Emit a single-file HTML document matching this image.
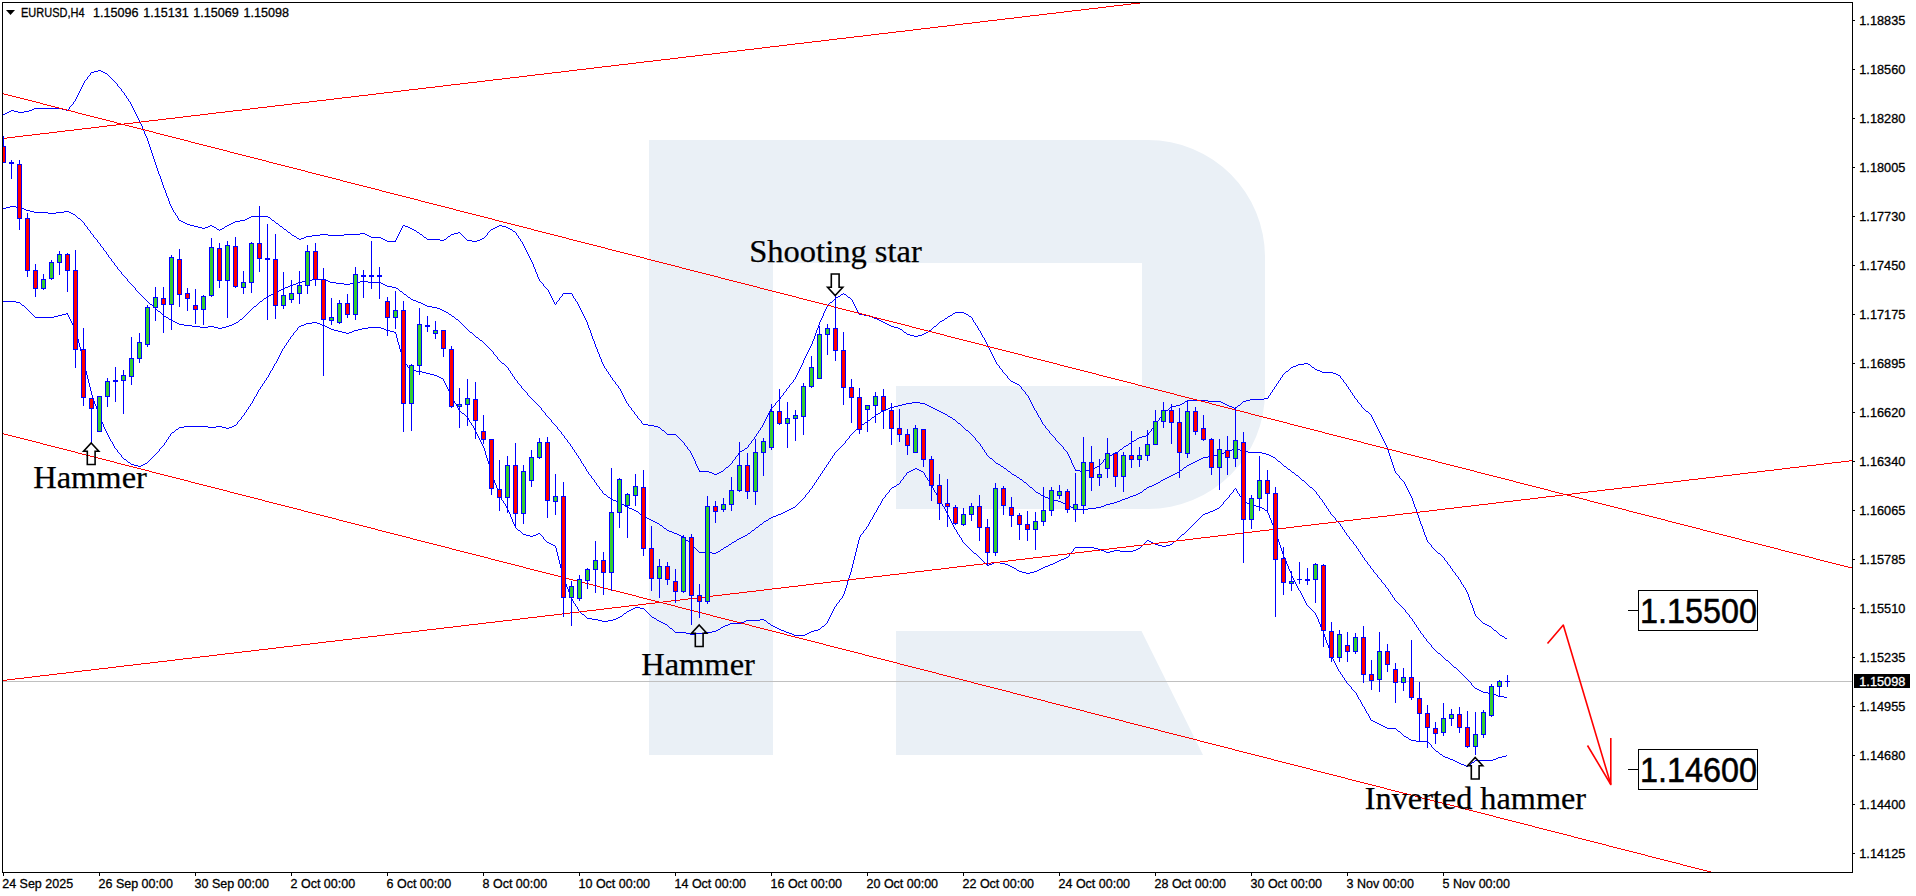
<!DOCTYPE html>
<html lang="en"><head><meta charset="utf-8"><title>EURUSD,H4</title>
<style>
html,body{margin:0;padding:0;background:#fff;}
body{width:1916px;height:896px;overflow:hidden;position:relative;font-family:"Liberation Sans",sans-serif;}
svg{position:absolute;left:0;top:0;display:block;}
.ax{font-family:"Liberation Sans",sans-serif;font-size:12.5px;fill:#000;stroke:#000;stroke-width:0.3px;}
.lbl{font-family:"Liberation Serif",serif;font-size:32.5px;fill:#000;stroke:#000;stroke-width:0.25px;}
.box{font-family:"Liberation Sans",sans-serif;font-size:35px;fill:#000;stroke:#000;stroke-width:0.5px;}
</style></head><body>
<svg width="1916" height="896" viewBox="0 0 1916 896">
<defs><clipPath id="cl"><rect x="3" y="3" width="1849" height="869"/></clipPath></defs>
<rect width="1916" height="896" fill="#fff"/>
<g clip-path="url(#cl)">
<path fill="#eaf0f6" d="M649 140H1148A117 117 0 0 1 1265 257V392A117 117 0 0 1 1148 509H896V386H1142V263H773V755H649Z M896 631H1141.5L1203 755H896Z"/>
<rect x="3" y="681" width="1849" height="1" fill="#c0c0c0" shape-rendering="crispEdges"/>
<path fill="#0000ff" shape-rendering="crispEdges" d="M592 619h6v1h-6zM613 619h3v1h-3zM760 619h4v1h-4zM613 500h3v1h-3zM1054 500h4v1h-4zM1120 500h2v1h-2zM618 502h2v1h-2zM1061 502h2v1h-2zM1114 502h3v1h-3zM1245 502h2v1h-2zM3 208h3v1h-3zM21 208h3v1h-3zM726 546h2v1h-2zM1162 546h4v1h-4zM422 372h4v1h-4zM1322 372h11v1h-11zM699 552h13v1h-13zM716 552h2v1h-2zM1106 552h4v1h-4zM620 616h2v1h-2zM1298 364h6v1h-6zM1308 364h2v1h-2zM302 281h4v1h-4zM328 281h2v1h-2zM360 281h8v1h-8zM446 312h2v1h-2zM955 312h9v1h-9zM740 451h2v1h-2zM1226 451h3v1h-3zM1242 451h6v1h-6zM426 373h4v1h-4zM1333 373h3v1h-3zM672 532h2v1h-2zM476 337h2v1h-2zM718 551h2v1h-2zM1104 551h2v1h-2zM1110 551h4v1h-4zM1120 551h13v1h-13zM298 282h4v1h-4zM330 282h6v1h-6zM354 282h6v1h-6zM368 282h13v1h-13zM989 564h3v1h-3zM1005 564h3v1h-3zM1050 564h3v1h-3zM1144 489h2v1h-2zM218 328h4v1h-4zM329 328h2v1h-2zM362 328h6v1h-6zM381 328h3v1h-3zM898 328h2v1h-2zM665 624h2v1h-2zM728 624h2v1h-2zM1485 624h2v1h-2zM635 607h5v1h-5zM1461 764h3v1h-3zM598 620h4v1h-4zM608 620h5v1h-5zM657 620h2v1h-2zM746 620h14v1h-14zM764 620h2v1h-2zM898 405h4v1h-4zM927 405h2v1h-2zM1176 405h4v1h-4zM1227 405h2v1h-2zM1238 405h2v1h-2zM416 371h6v1h-6zM1286 371h2v1h-2zM1320 371h2v1h-2zM1101 550h3v1h-3zM1114 550h6v1h-6zM1133 550h3v1h-3zM1066 557h2v1h-2zM181 221h2v1h-2zM235 221h5v1h-5zM34 108h28v1h-28zM632 509h2v1h-2zM789 509h2v1h-2zM1075 509h13v1h-13zM1215 509h2v1h-2zM183 222h2v1h-2zM233 222h2v1h-2zM176 429h2v1h-2zM994 562h6v1h-6zM1055 562h2v1h-2zM622 504h2v1h-2zM1065 504h2v1h-2zM1106 504h4v1h-4zM1249 504h2v1h-2zM175 322h2v1h-2zM236 322h2v1h-2zM312 322h5v1h-5zM883 322h2v1h-2zM1043 496h2v1h-2zM1130 496h3v1h-3zM620 503h2v1h-2zM1063 503h2v1h-2zM1110 503h4v1h-4zM1247 503h2v1h-2zM3 301h13v1h-13zM260 301h2v1h-2zM416 301h2v1h-2zM192 326h8v1h-8zM208 326h6v1h-6zM226 326h3v1h-3zM299 326h2v1h-2zM325 326h2v1h-2zM891 326h3v1h-3zM934 326h2v1h-2zM640 514h2v1h-2zM778 514h3v1h-3zM1203 514h2v1h-2zM636 511h2v1h-2zM785 511h2v1h-2zM1210 511h3v1h-3zM992 563h2v1h-2zM1000 563h5v1h-5zM1053 563h2v1h-2zM185 223h2v1h-2zM231 223h2v1h-2zM276 223h2v1h-2zM624 613h2v1h-2zM202 228h3v1h-3zM222 228h2v1h-2zM410 228h2v1h-2zM493 228h2v1h-2zM508 228h2v1h-2zM292 235h2v1h-2zM312 235h8v1h-8zM328 235h16v1h-16zM367 235h2v1h-2zM651 520h2v1h-2zM766 520h2v1h-2zM913 469h2v1h-2zM917 469h2v1h-2zM1090 469h3v1h-3zM1288 469h2v1h-2zM625 506h2v1h-2zM1069 506h2v1h-2zM1101 506h3v1h-3zM1256 506h4v1h-4zM1112 454h2v1h-2zM1218 454h3v1h-3zM1266 454h3v1h-3zM1416 741h12v1h-12zM217 229h2v1h-2zM220 229h2v1h-2zM284 229h2v1h-2zM412 229h2v1h-2zM491 229h2v1h-2zM510 229h2v1h-2zM134 465h4v1h-4zM141 465h2v1h-2zM1187 465h2v1h-2zM1014 475h2v1h-2zM1171 475h2v1h-2zM1296 475h2v1h-2zM184 426h24v1h-24zM216 426h6v1h-6zM232 426h2v1h-2zM654 426h4v1h-4zM1187 400h21v1h-21zM1246 400h4v1h-4zM279 290h2v1h-2zM699 471h10v1h-10zM721 471h2v1h-2zM909 471h2v1h-2zM921 471h2v1h-2zM1008 471h2v1h-2zM1080 471h6v1h-6zM726 467h2v1h-2zM1095 467h2v1h-2zM1184 467h2v1h-2zM54 316h4v1h-4zM164 316h2v1h-2zM452 316h2v1h-2zM869 316h3v1h-3zM948 316h2v1h-2zM969 316h2v1h-2zM297 238h2v1h-2zM301 238h3v1h-3zM381 238h2v1h-2zM482 238h2v1h-2zM1116 452h2v1h-2zM1224 452h2v1h-2zM1248 452h14v1h-14zM198 227h4v1h-4zM205 227h3v1h-3zM214 227h2v1h-2zM408 227h2v1h-2zM495 227h2v1h-2zM506 227h2v1h-2zM657 523h2v1h-2zM1504 697h3v1h-3zM1114 453h2v1h-2zM1221 453h3v1h-3zM1262 453h4v1h-4zM387 241h9v1h-9zM472 241h5v1h-5zM299 239h2v1h-2zM383 239h2v1h-2zM427 239h13v1h-13zM444 239h2v1h-2zM480 239h2v1h-2zM653 521h2v1h-2zM764 521h2v1h-2zM254 306h2v1h-2zM427 306h5v1h-5zM16 302h4v1h-4zM418 302h3v1h-3zM830 302h2v1h-2zM171 320h2v1h-2zM879 320h2v1h-2zM942 320h2v1h-2zM941 412h2v1h-2zM660 525h2v1h-2zM430 374h4v1h-4zM1336 374h2v1h-2zM1142 436h4v1h-4zM145 463h2v1h-2zM996 463h2v1h-2zM1191 463h2v1h-2zM551 544h2v1h-2zM729 544h2v1h-2zM1155 544h3v1h-3zM1170 544h2v1h-2zM1169 476h2v1h-2zM876 414h2v1h-2zM945 414h2v1h-2zM304 237h2v1h-2zM371 237h10v1h-10zM424 237h2v1h-2zM1436 751h2v1h-2zM1498 696h6v1h-6zM439 377h2v1h-2zM226 428h3v1h-3zM523 534h3v1h-3zM536 534h2v1h-2zM677 534h2v1h-2zM1182 534h2v1h-2zM530 536h3v1h-3zM681 536h2v1h-2zM743 536h2v1h-2zM1017 384h2v1h-2zM30 211h4v1h-4zM64 211h5v1h-5zM440 309h2v1h-2zM1453 760h2v1h-2zM1475 760h18v1h-18zM1139 437h3v1h-3zM958 423h2v1h-2zM737 539h2v1h-2zM948 416h2v1h-2zM1017 477h2v1h-2zM1167 477h2v1h-2zM897 484h2v1h-2zM1154 484h2v1h-2zM6 207h4v1h-4zM16 207h5v1h-5zM643 424h5v1h-5zM862 424h2v1h-2zM686 540h2v1h-2zM1147 540h2v1h-2zM712 553h4v1h-4zM974 553h2v1h-2zM1438 553h2v1h-2zM1165 478h2v1h-2zM721 549h2v1h-2zM1098 549h3v1h-3zM1136 549h2v1h-2zM179 324h5v1h-5zM232 324h2v1h-2zM304 324h2v1h-2zM320 324h2v1h-2zM887 324h2v1h-2zM911 470h2v1h-2zM919 470h2v1h-2zM1075 470h5v1h-5zM1086 470h4v1h-4zM1180 470h2v1h-2zM1156 483h2v1h-2zM602 621h6v1h-6zM659 621h2v1h-2zM744 621h2v1h-2zM547 542h2v1h-2zM732 542h2v1h-2zM1151 542h2v1h-2zM865 422h2v1h-2zM234 425h2v1h-2zM648 425h6v1h-6zM860 425h2v1h-2zM306 280h6v1h-6zM325 280h3v1h-3zM1371 720h2v1h-2zM34 212h14v1h-14zM56 212h8v1h-8zM69 212h2v1h-2zM662 430h2v1h-2zM966 430h2v1h-2zM1015 383h2v1h-2zM338 331h4v1h-4zM352 331h2v1h-2zM390 331h4v1h-4zM1185 401h2v1h-2zM1208 401h13v1h-13zM1243 401h3v1h-3zM874 318h3v1h-3zM945 318h2v1h-2zM616 501h2v1h-2zM1058 501h3v1h-3zM1117 501h3v1h-3zM1243 501h2v1h-2zM734 541h2v1h-2zM1149 541h2v1h-2zM1174 541h2v1h-2zM1011 381h2v1h-2zM1126 445h2v1h-2zM414 230h2v1h-2zM342 332h4v1h-4zM349 332h3v1h-3zM394 332h2v1h-2zM470 332h2v1h-2zM904 332h2v1h-2zM926 332h2v1h-2zM331 329h3v1h-3zM358 329h4v1h-4zM384 329h2v1h-2zM900 329h2v1h-2zM618 617h2v1h-2zM652 617h2v1h-2zM513 231h2v1h-2zM277 291h2v1h-2zM400 291h2v1h-2zM629 508h3v1h-3zM791 508h2v1h-2zM1073 508h2v1h-2zM1088 508h8v1h-8zM1217 508h2v1h-2zM1262 508h2v1h-2zM663 623h2v1h-2zM730 623h11v1h-11zM768 623h2v1h-2zM1483 623h2v1h-2zM1064 558h2v1h-2zM611 499h2v1h-2zM1050 499h4v1h-4zM1122 499h3v1h-3zM634 510h2v1h-2zM787 510h2v1h-2zM1213 510h2v1h-2zM1265 510h2v1h-2zM1012 567h2v1h-2zM1043 567h2v1h-2zM194 226h4v1h-4zM208 226h2v1h-2zM212 226h2v1h-2zM225 226h2v1h-2zM280 226h2v1h-2zM405 226h3v1h-3zM497 226h2v1h-2zM502 226h4v1h-4zM264 298h2v1h-2zM885 409h3v1h-3zM935 409h2v1h-2zM11 110h3v1h-3zM29 110h3v1h-3zM66 110h2v1h-2zM912 402h8v1h-8zM1221 402h2v1h-2zM320 234h8v1h-8zM344 234h16v1h-16zM365 234h2v1h-2zM420 234h2v1h-2zM451 234h3v1h-3zM1107 456h2v1h-2zM1208 456h6v1h-6zM1271 456h2v1h-2zM411 299h2v1h-2zM187 224h3v1h-3zM229 224h2v1h-2zM269 295h2v1h-2zM1019 571h3v1h-3zM1034 571h3v1h-3zM794 635h11v1h-11zM1500 635h2v1h-2zM385 240h2v1h-2zM440 240h4v1h-4zM467 240h5v1h-5zM477 240h3v1h-3zM437 308h3v1h-3zM1132 441h2v1h-2zM408 297h2v1h-2zM836 297h2v1h-2zM848 297h2v1h-2zM360 233h5v1h-5zM454 233h4v1h-4zM1195 461h2v1h-2zM1278 461h2v1h-2zM421 303h2v1h-2zM288 286h2v1h-2zM387 286h5v1h-5zM1445 757h3v1h-3zM1498 757h4v1h-4zM756 527h2v1h-2zM675 632h11v1h-11zM704 632h8v1h-8zM786 632h3v1h-3zM809 632h2v1h-2zM655 522h2v1h-2zM1496 695h2v1h-2zM906 403h6v1h-6zM920 403h5v1h-5zM1182 403h2v1h-2zM1223 403h2v1h-2zM883 410h2v1h-2zM937 410h2v1h-2zM1166 410h2v1h-2zM868 420h2v1h-2zM881 411h2v1h-2zM939 411h2v1h-2zM1366 411h2v1h-2zM888 408h2v1h-2zM933 408h2v1h-2zM1234 408h2v1h-2zM714 474h3v1h-3zM1012 474h2v1h-2zM1173 474h2v1h-2zM1459 763h2v1h-2zM411 370h5v1h-5zM1317 370h3v1h-3zM158 311h2v1h-2zM444 311h2v1h-2zM177 323h2v1h-2zM234 323h2v1h-2zM306 323h6v1h-6zM317 323h3v1h-3zM885 323h2v1h-2zM526 535h4v1h-4zM533 535h3v1h-3zM679 535h2v1h-2zM745 535h2v1h-2zM741 537h2v1h-2zM138 466h3v1h-3zM1001 466h2v1h-2zM1097 466h2v1h-2zM1284 466h2v1h-2zM58 315h4v1h-4zM864 315h5v1h-5zM950 315h2v1h-2zM334 330h4v1h-4zM354 330h4v1h-4zM386 330h4v1h-4zM929 330h2v1h-2zM249 217h2v1h-2zM268 217h2v1h-2zM66 313h2v1h-2zM953 313h2v1h-2zM964 313h2v1h-2zM1041 495h2v1h-2zM1133 495h3v1h-3zM200 327h8v1h-8zM214 327h4v1h-4zM222 327h4v1h-4zM327 327h2v1h-2zM368 327h13v1h-13zM894 327h4v1h-4zM1440 754h2v1h-2zM553 545h2v1h-2zM1158 545h4v1h-4zM1166 545h4v1h-4zM441 378h2v1h-2zM724 547h2v1h-2zM1075 547h19v1h-19zM1036 492h2v1h-2zM1140 492h2v1h-2zM587 618h5v1h-5zM616 618h2v1h-2zM654 618h2v1h-2zM582 614h2v1h-2zM1013 382h2v1h-2zM739 538h2v1h-2zM907 334h3v1h-3zM922 334h2v1h-2zM179 427h5v1h-5zM208 427h8v1h-8zM222 427h4v1h-4zM229 427h3v1h-3zM658 427h2v1h-2zM190 225h4v1h-4zM210 225h2v1h-2zM227 225h2v1h-2zM403 225h2v1h-2zM499 225h3v1h-3zM1059 560h2v1h-2zM1014 568h2v1h-2zM1041 568h2v1h-2zM1094 548h4v1h-4zM1138 548h2v1h-2zM184 325h8v1h-8zM229 325h3v1h-3zM301 325h3v1h-3zM322 325h3v1h-3zM889 325h2v1h-2zM1383 726h2v1h-2zM1124 446h2v1h-2zM1377 723h2v1h-2zM346 333h3v1h-3zM924 333h2v1h-2zM781 513h2v1h-2zM1205 513h3v1h-3zM169 319h2v1h-2zM240 319h2v1h-2zM456 319h2v1h-2zM877 319h2v1h-2zM910 335h4v1h-4zM918 335h4v1h-4zM716 630h2v1h-2zM781 630h3v1h-3zM814 630h4v1h-4zM1494 630h2v1h-2zM783 512h2v1h-2zM1208 512h2v1h-2zM647 518h2v1h-2zM769 518h2v1h-2zM294 236h2v1h-2zM306 236h6v1h-6zM369 236h2v1h-2zM448 236h2v1h-2zM645 517h2v1h-2zM771 517h2v1h-2zM124 459h2v1h-2zM1199 459h2v1h-2zM723 626h2v1h-2zM773 626h2v1h-2zM822 626h2v1h-2zM1489 626h2v1h-2zM664 528h2v1h-2zM1039 569h2v1h-2zM271 294h2v1h-2zM404 294h2v1h-2zM841 294h2v1h-2zM844 294h2v1h-2zM462 413h2v1h-2zM878 413h2v1h-2zM943 413h2v1h-2zM1203 457h5v1h-5zM1273 457h2v1h-2zM987 565h2v1h-2zM1008 565h2v1h-2zM1048 565h2v1h-2zM661 622h2v1h-2zM741 622h3v1h-3zM902 404h4v1h-4zM925 404h2v1h-2zM1180 404h2v1h-2zM1225 404h2v1h-2zM690 634h6v1h-6zM792 634h2v1h-2zM805 634h2v1h-2zM894 406h4v1h-4zM929 406h2v1h-2zM1171 406h5v1h-5zM1229 406h3v1h-3zM1010 566h2v1h-2zM1045 566h3v1h-3zM538 533h2v1h-2zM674 533h3v1h-3zM748 533h2v1h-2zM35 317h19v1h-19zM166 317h2v1h-2zM872 317h2v1h-2zM150 304h2v1h-2zM423 304h2v1h-2zM273 293h2v1h-2zM563 293h9v1h-9zM760 524h2v1h-2zM518 530h2v1h-2zM667 530h2v1h-2zM752 530h2v1h-2zM1109 455h3v1h-3zM1214 455h4v1h-4zM1269 455h2v1h-2zM1296 365h2v1h-2zM1443 756h2v1h-2zM1502 756h4v1h-4zM1293 366h3v1h-3zM712 473h2v1h-2zM717 473h2v1h-2zM1175 473h2v1h-2zM1493 694h3v1h-3zM26 210h4v1h-4zM502 363h2v1h-2zM1304 363h4v1h-4zM953 419h2v1h-2zM872 417h2v1h-2zM950 417h2v1h-2zM633 608h2v1h-2zM640 608h4v1h-4zM179 220h2v1h-2zM240 220h5v1h-5zM272 220h2v1h-2zM251 216h17v1h-17zM9 111h2v1h-2zM14 111h4v1h-4zM24 111h5v1h-5zM296 283h2v1h-2zM336 283h8v1h-8zM350 283h4v1h-4zM381 283h2v1h-2zM604 494h2v1h-2zM1136 494h2v1h-2zM627 611h2v1h-2zM312 279h13v1h-13zM712 631h4v1h-4zM784 631h2v1h-2zM811 631h3v1h-3zM670 628h2v1h-2zM777 628h2v1h-2zM686 633h4v1h-4zM696 633h8v1h-8zM789 633h3v1h-3zM807 633h2v1h-2zM627 507h2v1h-2zM793 507h2v1h-2zM1071 507h2v1h-2zM1096 507h5v1h-5zM1260 507h2v1h-2zM914 336h4v1h-4zM1197 460h2v1h-2zM1022 572h4v1h-4zM1030 572h4v1h-4zM98 70h3v1h-3zM293 284h3v1h-3zM344 284h6v1h-6zM383 284h2v1h-2zM776 515h2v1h-2zM1250 399h14v1h-14zM128 462h2v1h-2zM1193 462h2v1h-2zM62 314h4v1h-4zM449 314h2v1h-2zM859 314h5v1h-5zM966 314h2v1h-2zM172 432h2v1h-2zM432 307h5v1h-5zM1291 367h2v1h-2zM1312 367h2v1h-2zM1488 693h5v1h-5zM1020 479h2v1h-2zM1163 479h2v1h-2zM725 625h3v1h-3zM771 625h2v1h-2zM1487 625h2v1h-2zM1505 638h2v1h-2zM890 407h4v1h-4zM931 407h2v1h-2zM1232 407h2v1h-2zM1024 482h2v1h-2zM1158 482h2v1h-2zM48 213h8v1h-8zM71 213h2v1h-2zM549 543h2v1h-2zM1153 543h2v1h-2zM667 434h9v1h-9zM173 321h2v1h-2zM881 321h2v1h-2zM940 321h2v1h-2zM24 209h2v1h-2zM78 218h2v1h-2zM247 218h2v1h-2zM1129 443h2v1h-2zM745 448h2v1h-2zM1234 448h3v1h-3zM1264 398h4v1h-4zM1120 449h2v1h-2zM1232 449h2v1h-2zM1237 449h3v1h-3zM608 497h2v1h-2zM1045 497h3v1h-3zM1128 497h2v1h-2zM1454 667h2v1h-2zM1017 570h2v1h-2zM1037 570h2v1h-2zM288 232h2v1h-2zM417 232h2v1h-2zM458 232h2v1h-2zM1048 498h2v1h-2zM1125 498h3v1h-3zM290 285h3v1h-3zM385 285h2v1h-2zM1411 740h5v1h-5zM1387 728h9v1h-9zM718 629h2v1h-2zM779 629h2v1h-2zM818 629h2v1h-2zM1406 737h2v1h-2zM643 516h2v1h-2zM773 516h3v1h-3zM669 531h3v1h-3zM1450 759h3v1h-3zM1493 759h3v1h-3zM434 375h3v1h-3zM1338 375h2v1h-2zM1502 636h2v1h-2zM1446 660h2v1h-2zM709 472h3v1h-3zM719 472h2v1h-2zM907 472h2v1h-2zM1177 472h2v1h-2zM1292 472h2v1h-2zM1464 765h2v1h-2zM1468 765h2v1h-2zM1134 440h2v1h-2zM1161 480h2v1h-2zM1302 480h2v1h-2zM1067 505h2v1h-2zM1104 505h2v1h-2zM1251 505h5v1h-5zM1315 369h2v1h-2zM437 376h2v1h-2zM742 450h2v1h-2zM1229 450h3v1h-3zM1240 450h2v1h-2zM94 71h4v1h-4zM101 71h2v1h-2zM22 305h2v1h-2zM425 305h2v1h-2zM131 464h3v1h-3zM143 464h2v1h-2zM998 464h2v1h-2zM1189 464h2v1h-2zM631 609h2v1h-2zM32 109h2v1h-2zM62 109h4v1h-4zM721 627h2v1h-2zM775 627h2v1h-2zM1057 561h2v1h-2zM1026 573h4v1h-4zM267 296h2v1h-2zM838 296h2v1h-2zM7 112h2v1h-2zM18 112h6v1h-6zM285 287h3v1h-3zM392 287h4v1h-4zM915 468h2v1h-2zM1004 468h2v1h-2zM1093 468h2v1h-2zM283 288h2v1h-2zM396 288h2v1h-2zM10 206h6v1h-6zM1152 485h2v1h-2zM892 487h2v1h-2zM1030 487h2v1h-2zM1147 487h2v1h-2zM1310 487h2v1h-2zM1146 435h2v1h-2zM1404 736h2v1h-2zM990 458h2v1h-2zM1201 458h2v1h-2zM649 519h2v1h-2zM73 214h2v1h-2zM1466 766h2v1h-2zM894 486h2v1h-2zM1149 486h3v1h-3zM1038 493h2v1h-2zM1138 493h2v1h-2zM1457 762h2v1h-2zM1472 762h2v1h-2zM1409 739h2v1h-2zM480 340h2v1h-2zM413 300h3v1h-3zM275 292h2v1h-2zM442 310h2v1h-2zM281 289h2v1h-2zM1483 692h5v1h-5zM1477 689h2v1h-2zM91 72h3v1h-3zM103 72h2v1h-2zM1137 438h2v1h-2zM1398 731h2v1h-2zM629 610h2v1h-2zM5 113h2v1h-2zM1061 559h3v1h-3zM1385 727h2v1h-2zM1455 761h2v1h-2zM1475 688h2v1h-2zM105 73h2v1h-2zM1479 690h2v1h-2zM1481 691h2v1h-2zM3 114h2v1h-2zM1438 653h2v1h-2zM1379 724h2v1h-2zM245 219h2v1h-2zM1381 725h2v1h-2zM1373 721h2v1h-2zM1448 758h2v1h-2zM1496 758h2v1h-2zM1375 722h2v1h-2zM656 619h1v1h-1zM828 304h1v1h-1zM828 462h1v2h-1zM828 619h1v2h-1zM1318 495h1v1h-1zM1318 619h1v3h-1zM1412 498h1v3h-1zM1412 619h1v2h-1zM1479 619h1v1h-1zM502 500h1v1h-1zM801 365h1v2h-1zM801 500h1v1h-1zM882 499h1v2h-1zM940 500h1v2h-1zM1225 500h1v1h-1zM1242 402h1v1h-1zM1242 499h1v2h-1zM1322 500h1v2h-1zM1322 629h1v2h-1zM503 501h1v2h-1zM799 369h1v2h-1zM799 502h1v1h-1zM881 501h1v2h-1zM941 502h1v2h-1zM1223 502h1v2h-1zM1323 502h1v1h-1zM1323 631h1v3h-1zM1413 501h1v3h-1zM1413 621h1v1h-1zM172 208h1v2h-1zM494 354h1v1h-1zM494 480h1v3h-1zM594 341h1v3h-1zM594 480h1v2h-1zM816 330h1v3h-1zM816 480h1v2h-1zM900 481h1v2h-1zM929 481h1v2h-1zM1023 390h1v1h-1zM1023 481h1v1h-1zM1160 417h1v1h-1zM1160 481h1v1h-1zM1304 481h1v1h-1zM1304 599h1v2h-1zM1403 481h1v1h-1zM1403 608h1v1h-1zM1403 735h1v1h-1zM555 304h1v1h-1zM555 425h1v1h-1zM555 546h1v2h-1zM693 457h1v2h-1zM693 546h1v1h-1zM857 310h1v2h-1zM857 428h1v1h-1zM857 544h1v4h-1zM967 546h1v1h-1zM1141 546h1v1h-1zM1280 378h1v2h-1zM1280 462h1v1h-1zM1280 545h1v3h-1zM1356 399h1v1h-1zM1356 546h1v2h-1zM1356 693h1v2h-1zM1431 545h1v2h-1zM1431 645h1v2h-1zM1431 745h1v2h-1zM86 79h1v1h-1zM86 226h1v1h-1zM86 371h1v4h-1zM270 218h1v1h-1zM270 371h1v2h-1zM510 371h1v2h-1zM510 514h1v3h-1zM608 372h1v2h-1zM798 371h1v2h-1zM798 503h1v1h-1zM1003 372h1v1h-1zM1003 467h1v1h-1zM1285 372h1v1h-1zM1285 559h1v2h-1zM557 301h1v1h-1zM557 427h1v2h-1zM557 552h1v4h-1zM855 306h1v2h-1zM855 430h1v1h-1zM855 552h1v4h-1zM973 320h1v2h-1zM973 436h1v1h-1zM973 552h1v1h-1zM1071 460h1v3h-1zM1071 552h1v1h-1zM1282 375h1v2h-1zM1282 464h1v1h-1zM1282 551h1v3h-1zM1360 404h1v1h-1zM1360 552h1v2h-1zM1360 700h1v2h-1zM1437 552h1v1h-1zM1437 652h1v1h-1zM585 318h1v2h-1zM585 467h1v2h-1zM585 616h1v1h-1zM651 616h1v1h-1zM830 459h1v2h-1zM830 615h1v2h-1zM1316 492h1v2h-1zM1316 615h1v2h-1zM1409 492h1v2h-1zM1409 615h1v2h-1zM1476 616h1v1h-1zM84 81h1v2h-1zM84 223h1v2h-1zM84 363h1v4h-1zM274 221h1v1h-1zM274 364h1v2h-1zM406 295h1v1h-1zM406 364h1v1h-1zM504 364h1v1h-1zM504 503h1v1h-1zM603 364h1v2h-1zM603 493h1v1h-1zM802 363h1v2h-1zM802 499h1v1h-1zM997 364h1v1h-1zM128 99h1v2h-1zM128 281h1v1h-1zM540 281h1v1h-1zM540 407h1v1h-1zM540 534h1v1h-1zM571 446h1v1h-1zM571 597h1v2h-1zM841 446h1v1h-1zM841 598h1v1h-1zM1303 597h1v2h-1zM1394 468h1v3h-1zM1394 598h1v2h-1zM1469 597h1v3h-1zM1469 681h1v1h-1zM30 312h1v1h-1zM160 176h1v3h-1zM160 312h1v1h-1zM160 448h1v1h-1zM248 312h1v1h-1zM248 407h1v2h-1zM582 312h1v2h-1zM582 463h1v1h-1zM824 311h1v2h-1zM824 468h1v2h-1zM824 625h1v1h-1zM858 312h1v2h-1zM858 427h1v1h-1zM858 540h1v4h-1zM117 84h1v2h-1zM117 267h1v2h-1zM117 450h1v2h-1zM158 171h1v3h-1zM158 451h1v1h-1zM485 236h1v1h-1zM485 344h1v1h-1zM485 451h1v4h-1zM574 298h1v1h-1zM574 450h1v2h-1zM574 603h1v1h-1zM690 451h1v2h-1zM690 543h1v1h-1zM836 451h1v1h-1zM836 604h1v2h-1zM984 338h1v2h-1zM984 450h1v2h-1zM984 562h1v1h-1zM1066 451h1v1h-1zM1118 451h1v1h-1zM1388 450h1v3h-1zM1388 589h1v2h-1zM269 373h1v2h-1zM511 373h1v1h-1zM511 517h1v2h-1zM797 373h1v2h-1zM797 504h1v1h-1zM1004 373h1v1h-1zM1284 373h1v1h-1zM1284 557h1v2h-1zM89 75h1v1h-1zM89 230h1v1h-1zM89 383h1v4h-1zM262 300h1v1h-1zM262 384h1v2h-1zM446 238h1v1h-1zM446 385h1v2h-1zM520 239h1v2h-1zM520 385h1v1h-1zM520 531h1v1h-1zM617 385h1v1h-1zM789 385h1v2h-1zM1019 385h1v1h-1zM1019 478h1v1h-1zM1276 384h1v2h-1zM1276 459h1v1h-1zM1276 533h1v3h-1zM1346 384h1v2h-1zM1346 533h1v2h-1zM1346 681h1v2h-1zM521 241h1v1h-1zM521 386h1v2h-1zM521 532h1v1h-1zM750 443h1v1h-1zM750 532h1v1h-1zM863 531h1v2h-1zM957 422h1v1h-1zM957 532h1v2h-1zM1185 532h1v1h-1zM1275 386h1v1h-1zM1275 458h1v1h-1zM1275 530h1v3h-1zM1345 383h1v1h-1zM1345 532h1v1h-1zM1345 680h1v1h-1zM1424 532h1v3h-1zM1424 637h1v1h-1zM77 95h1v2h-1zM77 217h1v1h-1zM77 335h1v4h-1zM290 233h1v1h-1zM290 337h1v2h-1zM396 238h1v2h-1zM396 334h1v4h-1zM592 336h1v3h-1zM592 478h1v1h-1zM814 336h1v3h-1zM814 483h1v2h-1zM983 337h1v1h-1zM983 449h1v1h-1zM983 561h1v1h-1zM556 302h1v2h-1zM556 426h1v1h-1zM556 548h1v4h-1zM698 468h1v2h-1zM698 551h1v1h-1zM856 308h1v2h-1zM856 429h1v1h-1zM856 548h1v4h-1zM972 318h1v2h-1zM972 435h1v1h-1zM972 551h1v1h-1zM1072 463h1v2h-1zM1072 551h1v1h-1zM1359 403h1v1h-1zM1359 551h1v1h-1zM1359 699h1v1h-1zM1436 551h1v1h-1zM1436 651h1v1h-1zM129 101h1v1h-1zM129 282h1v1h-1zM541 282h1v1h-1zM541 408h1v2h-1zM541 535h1v1h-1zM560 297h1v1h-1zM560 431h1v1h-1zM560 564h1v4h-1zM852 300h1v2h-1zM852 433h1v1h-1zM852 564h1v4h-1zM986 342h1v2h-1zM986 453h1v2h-1zM986 564h1v1h-1zM1287 468h1v1h-1zM1287 564h1v2h-1zM1368 412h1v1h-1zM1368 564h1v1h-1zM1368 714h1v2h-1zM1448 564h1v1h-1zM1448 661h1v1h-1zM497 357h1v2h-1zM497 488h1v3h-1zM600 357h1v2h-1zM600 489h1v1h-1zM810 346h1v2h-1zM810 489h1v1h-1zM890 489h1v1h-1zM933 327h1v1h-1zM933 488h1v2h-1zM1033 406h1v2h-1zM1033 489h1v1h-1zM1234 489h1v1h-1zM1236 407h1v1h-1zM1236 489h1v2h-1zM1313 489h1v1h-1zM1313 611h1v1h-1zM1407 488h1v2h-1zM1407 613h1v1h-1zM261 386h1v1h-1zM618 386h1v2h-1zM1020 386h1v1h-1zM1347 386h1v1h-1zM1347 535h1v1h-1zM1347 683h1v1h-1zM74 101h1v1h-1zM74 327h1v2h-1zM297 328h1v2h-1zM466 239h1v1h-1zM466 328h1v1h-1zM466 416h1v1h-1zM589 328h1v2h-1zM589 474h1v1h-1zM817 328h1v2h-1zM817 479h1v1h-1zM932 328h1v1h-1zM932 486h1v2h-1zM978 328h1v2h-1zM978 442h1v1h-1zM978 556h1v1h-1zM770 409h1v2h-1zM770 624h1v1h-1zM825 309h1v2h-1zM825 467h1v1h-1zM825 624h1v1h-1zM1320 498h1v1h-1zM1320 624h1v3h-1zM1415 507h1v2h-1zM1415 624h1v1h-1zM577 302h1v2h-1zM577 455h1v1h-1zM577 607h1v2h-1zM834 299h1v1h-1zM834 453h1v2h-1zM834 607h1v2h-1zM1309 486h1v1h-1zM1309 607h1v1h-1zM1402 480h1v1h-1zM1402 607h1v1h-1zM1402 734h1v1h-1zM1472 605h1v3h-1zM1472 685h1v1h-1zM1470 600h1v3h-1zM1470 682h1v1h-1zM1470 764h1v1h-1zM1480 620h1v1h-1zM91 233h1v1h-1zM91 391h1v4h-1zM257 304h1v1h-1zM257 392h1v2h-1zM450 235h1v1h-1zM450 393h1v2h-1zM527 252h1v2h-1zM527 393h1v2h-1zM622 393h1v2h-1zM622 615h1v1h-1zM783 393h1v2h-1zM1025 392h1v2h-1zM1270 393h1v2h-1zM1270 518h1v2h-1zM1352 393h1v2h-1zM1352 541h1v1h-1zM1352 689h1v1h-1zM95 238h1v1h-1zM95 404h1v2h-1zM250 310h1v1h-1zM250 404h1v2h-1zM456 404h1v2h-1zM538 277h1v2h-1zM538 405h1v1h-1zM628 404h1v2h-1zM774 405h1v1h-1zM1032 404h1v2h-1zM1032 488h1v1h-1zM1361 405h1v2h-1zM1361 554h1v1h-1zM1361 702h1v2h-1zM607 371h1v1h-1zM607 496h1v1h-1zM1002 370h1v2h-1zM121 89h1v2h-1zM121 272h1v2h-1zM121 455h1v2h-1zM536 272h1v2h-1zM536 403h1v1h-1zM1369 413h1v1h-1zM1369 565h1v1h-1zM1369 716h1v2h-1zM697 466h1v2h-1zM697 550h1v1h-1zM720 550h1v1h-1zM720 628h1v1h-1zM971 317h1v1h-1zM971 434h1v1h-1zM971 550h1v1h-1zM1073 465h1v2h-1zM1073 549h1v2h-1zM1281 377h1v1h-1zM1281 463h1v1h-1zM1281 548h1v3h-1zM1358 402h1v1h-1zM1358 549h1v2h-1zM1358 697h1v2h-1zM1435 550h1v1h-1zM1435 650h1v1h-1zM1435 750h1v1h-1zM558 300h1v1h-1zM558 429h1v1h-1zM558 556h1v4h-1zM854 304h1v2h-1zM854 431h1v1h-1zM854 556h1v4h-1zM979 330h1v1h-1zM979 443h1v1h-1zM979 557h1v1h-1zM1363 408h1v1h-1zM1363 557h1v1h-1zM1363 706h1v1h-1zM1443 557h1v1h-1zM1443 657h1v1h-1zM82 85h1v2h-1zM82 221h1v1h-1zM82 355h1v4h-1zM1370 414h1v1h-1zM1370 566h1v2h-1zM1370 718h1v2h-1zM69 107h1v2h-1zM69 317h1v2h-1zM133 108h1v2h-1zM133 286h1v1h-1zM507 367h1v1h-1zM507 508h1v2h-1zM877 508h1v2h-1zM945 509h1v2h-1zM1264 509h1v1h-1zM1328 509h1v2h-1zM1328 645h1v3h-1zM1416 509h1v3h-1zM1416 625h1v2h-1zM83 83h1v2h-1zM83 222h1v1h-1zM83 359h1v4h-1zM275 222h1v1h-1zM275 363h1v1h-1zM79 91h1v2h-1zM79 343h1v4h-1zM285 345h1v1h-1zM399 232h1v2h-1zM399 290h1v1h-1zM399 345h1v4h-1zM486 235h1v1h-1zM486 345h1v1h-1zM486 455h1v3h-1zM595 344h1v3h-1zM595 482h1v1h-1zM811 344h1v2h-1zM811 488h1v1h-1zM987 344h1v2h-1zM987 455h1v1h-1zM154 159h1v3h-1zM154 307h1v1h-1zM154 455h1v1h-1zM105 251h1v1h-1zM105 429h1v2h-1zM474 335h1v1h-1zM474 428h1v2h-1zM661 429h1v1h-1zM760 428h1v2h-1zM965 429h1v1h-1zM965 544h1v1h-1zM1047 429h1v1h-1zM1151 429h1v2h-1zM1378 429h1v2h-1zM1378 577h1v1h-1zM559 298h1v2h-1zM559 430h1v1h-1zM559 560h1v4h-1zM853 302h1v2h-1zM853 432h1v1h-1zM853 560h1v4h-1zM1286 467h1v1h-1zM1286 561h1v3h-1zM1367 562h1v2h-1zM1367 713h1v1h-1zM1447 562h1v2h-1zM505 365h1v1h-1zM505 504h1v2h-1zM880 412h1v1h-1zM880 503h1v2h-1zM942 504h1v2h-1zM1222 504h1v1h-1zM1324 503h1v2h-1zM1324 634h1v3h-1zM1414 504h1v3h-1zM1414 622h1v2h-1zM71 105h1v1h-1zM71 321h1v2h-1zM460 233h1v1h-1zM460 322h1v1h-1zM460 411h1v1h-1zM587 322h1v3h-1zM587 471h1v1h-1zM819 322h1v3h-1zM819 476h1v1h-1zM939 322h1v1h-1zM939 499h1v1h-1zM974 322h1v1h-1zM974 437h1v1h-1zM500 361h1v1h-1zM500 496h1v2h-1zM805 356h1v2h-1zM805 495h1v2h-1zM885 495h1v2h-1zM937 324h1v1h-1zM937 495h1v2h-1zM1229 495h1v2h-1zM1240 404h1v1h-1zM1240 496h1v1h-1zM1319 496h1v2h-1zM1319 622h1v2h-1zM1411 496h1v2h-1zM1411 618h1v1h-1zM147 138h1v3h-1zM147 301h1v1h-1zM147 462h1v1h-1zM553 300h1v2h-1zM553 423h1v1h-1zM576 301h1v1h-1zM576 453h1v2h-1zM576 606h1v1h-1zM832 301h1v1h-1zM832 456h1v2h-1zM832 611h1v2h-1zM155 162h1v3h-1zM155 308h1v1h-1zM155 454h1v1h-1zM73 102h1v2h-1zM73 325h1v2h-1zM464 237h1v1h-1zM464 326h1v1h-1zM464 414h1v1h-1zM588 325h1v3h-1zM588 472h1v2h-1zM818 325h1v3h-1zM818 477h1v2h-1zM977 326h1v2h-1zM977 441h1v1h-1zM977 555h1v1h-1zM874 416h1v1h-1zM874 513h1v2h-1zM947 317h1v1h-1zM947 415h1v1h-1zM947 513h1v2h-1zM1268 396h1v2h-1zM1268 513h1v2h-1zM1331 514h1v1h-1zM1331 654h1v3h-1zM1417 512h1v3h-1zM1417 627h1v1h-1zM508 368h1v2h-1zM508 510h1v2h-1zM876 510h1v2h-1zM946 511h1v2h-1zM1267 511h1v2h-1zM1329 511h1v1h-1zM1329 648h1v3h-1zM580 308h1v2h-1zM580 459h1v2h-1zM580 612h1v1h-1zM626 401h1v2h-1zM626 612h1v1h-1zM647 612h1v1h-1zM1314 368h1v1h-1zM1314 490h1v1h-1zM1314 612h1v1h-1zM1406 486h1v2h-1zM1406 612h1v1h-1zM1474 611h1v3h-1zM1474 687h1v1h-1zM1474 761h1v1h-1zM985 340h1v2h-1zM985 452h1v1h-1zM985 563h1v1h-1zM581 310h1v2h-1zM581 461h1v2h-1zM581 613h1v1h-1zM648 613h1v1h-1zM831 458h1v1h-1zM831 613h1v2h-1zM1315 491h1v1h-1zM1315 613h1v2h-1zM87 77h1v2h-1zM87 227h1v2h-1zM87 375h1v4h-1zM216 228h1v1h-1zM283 228h1v1h-1zM283 348h1v1h-1zM401 228h1v2h-1zM401 352h1v4h-1zM93 235h1v2h-1zM93 398h1v3h-1zM398 234h1v2h-1zM398 289h1v1h-1zM398 342h1v3h-1zM422 235h1v1h-1zM462 235h1v1h-1zM462 324h1v1h-1zM517 235h1v1h-1zM517 381h1v2h-1zM517 529h1v1h-1zM512 230h1v1h-1zM512 374h1v2h-1zM512 519h1v3h-1zM870 419h1v1h-1zM870 520h1v2h-1zM950 519h1v2h-1zM1197 520h1v1h-1zM1271 392h1v1h-1zM1271 520h1v3h-1zM1336 520h1v1h-1zM1336 665h1v2h-1zM1419 518h1v3h-1zM1419 630h1v1h-1zM490 230h1v1h-1zM490 349h1v1h-1zM490 468h1v3h-1zM586 320h1v2h-1zM586 469h1v2h-1zM586 617h1v1h-1zM724 469h1v1h-1zM1006 375h1v1h-1zM1006 469h1v1h-1zM1075 469h1v1h-1zM1182 469h1v1h-1zM1343 380h1v2h-1zM1343 529h1v1h-1zM1343 677h1v1h-1zM1465 588h1v2h-1zM1465 677h1v1h-1zM506 366h1v1h-1zM506 506h1v2h-1zM795 377h1v2h-1zM795 506h1v1h-1zM878 506h1v2h-1zM943 506h1v1h-1zM1220 506h1v1h-1zM1326 506h1v2h-1zM1326 640h1v3h-1zM120 88h1v1h-1zM120 271h1v1h-1zM120 454h1v1h-1zM691 453h1v2h-1zM691 544h1v1h-1zM738 453h1v2h-1zM1068 454h1v2h-1zM1068 556h1v1h-1zM1389 453h1v3h-1zM1389 591h1v1h-1zM88 76h1v1h-1zM88 229h1v1h-1zM88 379h1v4h-1zM90 73h1v2h-1zM90 231h1v2h-1zM90 387h1v4h-1zM259 302h1v1h-1zM259 389h1v1h-1zM448 313h1v1h-1zM448 389h1v2h-1zM523 244h1v2h-1zM523 389h1v1h-1zM620 389h1v2h-1zM786 389h1v2h-1zM1022 389h1v1h-1zM1022 480h1v1h-1zM1273 389h1v1h-1zM1273 525h1v3h-1zM1349 389h1v1h-1zM1349 537h1v2h-1zM1349 685h1v1h-1zM1344 382h1v1h-1zM1344 530h1v2h-1zM1344 678h1v2h-1zM1466 590h1v2h-1zM1466 678h1v1h-1zM489 231h1v1h-1zM489 348h1v1h-1zM489 464h1v4h-1zM583 314h1v2h-1zM583 464h1v2h-1zM696 464h1v2h-1zM696 549h1v1h-1zM729 465h1v1h-1zM826 307h1v2h-1zM826 465h1v2h-1zM826 623h1v1h-1zM1000 368h1v1h-1zM1000 465h1v1h-1zM1099 465h1v1h-1zM1283 374h1v1h-1zM1283 465h1v1h-1zM1283 554h1v3h-1zM1393 465h1v3h-1zM1393 597h1v1h-1zM1471 603h1v2h-1zM1471 683h1v2h-1zM1471 763h1v1h-1zM492 351h1v1h-1zM492 474h1v3h-1zM590 330h1v3h-1zM590 475h1v1h-1zM820 320h1v2h-1zM820 474h1v2h-1zM820 628h1v1h-1zM905 475h1v1h-1zM925 475h1v2h-1zM1398 475h1v1h-1zM1398 603h1v1h-1zM103 248h1v2h-1zM103 424h1v3h-1zM473 334h1v1h-1zM473 426h1v2h-1zM762 425h1v2h-1zM762 523h1v1h-1zM859 426h1v1h-1zM859 537h1v3h-1zM962 426h1v1h-1zM962 540h1v2h-1zM1045 426h1v2h-1zM1154 425h1v2h-1zM1376 425h1v2h-1zM1376 574h1v1h-1zM253 307h1v1h-1zM253 399h1v2h-1zM453 399h1v2h-1zM533 264h1v3h-1zM533 400h1v1h-1zM625 399h1v2h-1zM778 400h1v1h-1zM1030 400h1v2h-1zM1357 400h1v2h-1zM1357 548h1v1h-1zM1357 695h1v2h-1zM136 114h1v2h-1zM136 290h1v1h-1zM548 290h1v2h-1zM548 417h1v1h-1zM491 350h1v1h-1zM491 471h1v3h-1zM822 316h1v2h-1zM822 471h1v2h-1zM1179 471h1v1h-1zM1179 537h1v1h-1zM1291 471h1v1h-1zM1291 573h1v3h-1zM1395 471h1v2h-1zM1395 600h1v1h-1zM1074 467h1v2h-1zM1074 548h1v1h-1zM34 316h1v1h-1zM68 109h1v1h-1zM68 315h1v2h-1zM244 316h1v1h-1zM244 413h1v2h-1zM584 316h1v2h-1zM584 466h1v1h-1zM584 615h1v1h-1zM426 238h1v1h-1zM465 238h1v1h-1zM465 327h1v1h-1zM465 415h1v1h-1zM519 238h1v1h-1zM519 384h1v1h-1zM118 86h1v1h-1zM118 269h1v1h-1zM118 452h1v1h-1zM157 168h1v3h-1zM157 310h1v1h-1zM157 452h1v1h-1zM575 299h1v2h-1zM575 452h1v1h-1zM575 604h1v2h-1zM739 452h1v1h-1zM835 298h1v1h-1zM835 452h1v1h-1zM835 606h1v1h-1zM1067 452h1v2h-1zM224 227h1v1h-1zM282 227h1v1h-1zM282 349h1v2h-1zM402 226h1v2h-1zM402 292h1v1h-1zM402 356h1v4h-1zM513 376h1v1h-1zM513 522h1v2h-1zM869 522h1v2h-1zM952 314h1v1h-1zM952 418h1v1h-1zM952 523h1v2h-1zM1194 523h1v1h-1zM1272 390h1v2h-1zM1272 523h1v2h-1zM1339 523h1v1h-1zM1339 671h1v1h-1zM1420 521h1v3h-1zM1420 631h1v2h-1zM276 361h1v2h-1zM403 293h1v1h-1zM403 360h1v2h-1zM601 359h1v3h-1zM601 490h1v1h-1zM803 360h1v3h-1zM803 498h1v1h-1zM995 360h1v2h-1zM995 462h1v1h-1zM119 87h1v1h-1zM119 270h1v1h-1zM119 453h1v1h-1zM156 165h1v3h-1zM156 309h1v1h-1zM156 453h1v1h-1zM80 89h1v2h-1zM80 219h1v1h-1zM80 347h1v4h-1zM284 346h1v2h-1zM488 232h1v1h-1zM488 347h1v1h-1zM488 461h1v3h-1zM596 347h1v2h-1zM596 483h1v2h-1zM988 346h1v2h-1zM988 456h1v1h-1zM97 240h1v2h-1zM97 409h1v3h-1zM564 436h1v2h-1zM564 579h1v2h-1zM848 438h1v1h-1zM848 578h1v3h-1zM1294 473h1v1h-1zM1294 580h1v2h-1zM1381 435h1v2h-1zM1381 580h1v2h-1zM1460 580h1v2h-1zM1460 672h1v1h-1zM96 239h1v1h-1zM96 406h1v3h-1zM951 521h1v2h-1zM1196 521h1v1h-1zM1337 521h1v1h-1zM1337 667h1v2h-1zM24 306h1v1h-1zM153 156h1v3h-1zM153 306h1v1h-1zM153 456h1v1h-1zM579 306h1v2h-1zM579 458h1v1h-1zM579 611h1v1h-1zM827 305h1v2h-1zM827 464h1v1h-1zM827 621h1v2h-1zM148 141h1v3h-1zM148 302h1v1h-1zM148 461h1v1h-1zM554 302h1v2h-1zM554 424h1v1h-1zM106 252h1v2h-1zM106 431h1v2h-1zM70 106h1v1h-1zM70 319h1v2h-1zM239 320h1v1h-1zM239 420h1v1h-1zM458 320h1v1h-1zM458 408h1v2h-1zM278 224h1v1h-1zM278 357h1v2h-1zM804 358h1v2h-1zM804 497h1v1h-1zM994 358h1v2h-1zM994 461h1v1h-1zM570 444h1v2h-1zM570 595h1v2h-1zM843 293h1v1h-1zM843 444h1v1h-1zM843 594h1v2h-1zM1302 595h1v2h-1zM1392 462h1v3h-1zM1392 595h1v2h-1zM1468 594h1v3h-1zM1468 680h1v1h-1zM98 242h1v1h-1zM98 412h1v3h-1zM245 315h1v1h-1zM245 412h1v1h-1zM461 234h1v1h-1zM461 323h1v1h-1zM461 412h1v1h-1zM544 286h1v1h-1zM544 412h1v1h-1zM544 539h1v1h-1zM634 412h1v2h-1zM769 411h1v2h-1zM1036 411h1v2h-1zM1164 412h1v1h-1zM514 377h1v2h-1zM514 524h1v2h-1zM759 430h1v1h-1zM759 525h1v1h-1zM868 524h1v2h-1zM953 525h1v2h-1zM1192 525h1v1h-1zM1340 376h1v2h-1zM1340 524h1v2h-1zM1340 672h1v2h-1zM1421 524h1v2h-1zM1421 633h1v1h-1zM609 374h1v1h-1zM1005 374h1v1h-1zM108 75h1v1h-1zM108 255h1v2h-1zM108 435h1v2h-1zM169 201h1v3h-1zM169 436h1v1h-1zM478 338h1v1h-1zM478 436h1v2h-1zM677 436h1v1h-1zM755 436h1v1h-1zM755 528h1v1h-1zM849 436h1v2h-1zM849 575h1v3h-1zM1053 436h1v1h-1zM568 442h1v1h-1zM568 589h1v3h-1zM845 441h1v2h-1zM845 588h1v3h-1zM1298 476h1v1h-1zM1298 588h1v2h-1zM130 102h1v2h-1zM130 283h1v1h-1zM130 463h1v1h-1zM695 461h1v3h-1zM695 548h1v1h-1zM731 463h1v1h-1zM731 543h1v1h-1zM1101 463h1v1h-1zM1143 490h1v1h-1zM1143 544h1v1h-1zM1279 380h1v1h-1zM1279 542h1v3h-1zM1354 396h1v2h-1zM1354 544h1v1h-1zM1354 691h1v1h-1zM1430 544h1v1h-1zM1430 644h1v1h-1zM1430 744h1v1h-1zM591 333h1v3h-1zM591 476h1v2h-1zM904 476h1v1h-1zM1016 476h1v1h-1zM1016 569h1v1h-1zM1399 476h1v2h-1zM1399 604h1v1h-1zM545 287h1v1h-1zM545 413h1v2h-1zM545 540h1v1h-1zM635 414h1v1h-1zM768 413h1v2h-1zM768 519h1v1h-1zM1037 413h1v2h-1zM1162 414h1v2h-1zM94 237h1v1h-1zM94 401h1v3h-1zM296 237h1v1h-1zM296 330h1v1h-1zM397 236h1v2h-1zM397 338h1v4h-1zM447 237h1v1h-1zM447 387h1v2h-1zM484 237h1v1h-1zM484 343h1v1h-1zM484 448h1v3h-1zM518 236h1v2h-1zM518 383h1v1h-1zM279 225h1v1h-1zM279 355h1v2h-1zM495 355h1v1h-1zM495 483h1v2h-1zM599 354h1v3h-1zM599 487h1v2h-1zM806 354h1v2h-1zM806 494h1v1h-1zM992 354h1v2h-1zM992 459h1v1h-1zM267 377h1v1h-1zM611 377h1v1h-1zM1007 376h1v2h-1zM1007 470h1v1h-1zM104 250h1v1h-1zM104 427h1v2h-1zM178 218h1v2h-1zM178 428h1v1h-1zM660 428h1v1h-1zM964 428h1v1h-1zM964 543h1v1h-1zM1046 428h1v1h-1zM1152 428h1v1h-1zM1377 427h1v2h-1zM1377 575h1v2h-1zM747 447h1v1h-1zM747 534h1v1h-1zM861 534h1v1h-1zM958 534h1v1h-1zM542 283h1v1h-1zM542 410h1v1h-1zM542 536h1v1h-1zM860 535h1v2h-1zM959 535h1v2h-1zM1180 536h1v1h-1zM1277 383h1v1h-1zM1277 460h1v1h-1zM1277 536h1v3h-1zM1348 387h1v2h-1zM1348 536h1v1h-1zM1348 684h1v1h-1zM1425 535h1v2h-1zM1425 638h1v1h-1zM445 383h1v2h-1zM616 384h1v1h-1zM790 384h1v1h-1zM173 210h1v2h-1zM99 243h1v1h-1zM99 415h1v3h-1zM243 317h1v1h-1zM243 415h1v1h-1zM546 288h1v1h-1zM546 415h1v1h-1zM546 541h1v1h-1zM636 415h1v1h-1zM767 415h1v2h-1zM767 622h1v1h-1zM875 415h1v1h-1zM875 512h1v1h-1zM1038 415h1v2h-1zM1371 415h1v2h-1zM1371 568h1v1h-1zM27 309h1v1h-1zM251 309h1v1h-1zM251 403h1v1h-1zM146 136h1v2h-1zM146 300h1v1h-1zM109 76h1v1h-1zM109 257h1v1h-1zM109 437h1v2h-1zM168 198h1v3h-1zM168 318h1v1h-1zM168 437h1v2h-1zM678 437h1v1h-1zM754 437h1v2h-1zM754 529h1v1h-1zM1054 437h1v1h-1zM1382 437h1v2h-1zM1382 582h1v1h-1zM102 247h1v1h-1zM102 422h1v2h-1zM237 422h1v2h-1zM471 423h1v2h-1zM642 423h1v1h-1zM642 515h1v1h-1zM763 423h1v2h-1zM763 522h1v1h-1zM864 423h1v1h-1zM864 530h1v1h-1zM1042 422h1v2h-1zM1156 422h1v2h-1zM1375 423h1v2h-1zM1375 573h1v1h-1zM685 445h1v1h-1zM685 539h1v1h-1zM961 425h1v1h-1zM961 538h1v2h-1zM1177 539h1v1h-1zM1278 381h1v2h-1zM1278 539h1v3h-1zM1350 390h1v2h-1zM1350 539h1v1h-1zM1350 686h1v1h-1zM1426 537h1v3h-1zM1426 639h1v2h-1zM242 318h1v1h-1zM242 416h1v1h-1zM547 289h1v1h-1zM547 416h1v1h-1zM637 416h1v2h-1zM1161 416h1v1h-1zM115 82h1v1h-1zM115 265h1v1h-1zM115 448h1v1h-1zM493 352h1v2h-1zM493 477h1v3h-1zM903 331h1v1h-1zM903 477h1v2h-1zM926 477h1v1h-1zM1299 477h1v1h-1zM1299 590h1v1h-1zM930 483h1v2h-1zM1027 395h1v1h-1zM1027 484h1v1h-1zM1307 484h1v1h-1zM1307 605h1v1h-1zM1405 484h1v2h-1zM1405 610h1v2h-1zM171 206h1v2h-1zM171 433h1v1h-1zM260 387h1v2h-1zM788 387h1v1h-1zM1021 387h1v2h-1zM1274 387h1v2h-1zM1274 528h1v2h-1zM236 424h1v1h-1zM960 424h1v1h-1zM960 537h1v1h-1zM1043 424h1v1h-1zM1155 424h1v1h-1zM736 456h1v1h-1zM736 540h1v1h-1zM1176 540h1v1h-1zM1351 392h1v1h-1zM1351 540h1v1h-1zM1351 687h1v2h-1zM1427 540h1v2h-1zM1427 641h1v1h-1zM1070 458h1v2h-1zM1070 553h1v1h-1zM927 478h1v2h-1zM1300 478h1v1h-1zM1300 591h1v2h-1zM1400 478h1v1h-1zM1400 605h1v1h-1zM1400 732h1v1h-1zM970 433h1v1h-1zM970 549h1v1h-1zM1434 549h1v1h-1zM1434 649h1v1h-1zM1434 749h1v1h-1zM72 104h1v1h-1zM72 323h1v2h-1zM975 323h1v2h-1zM975 438h1v2h-1zM699 470h1v1h-1zM723 470h1v1h-1zM723 548h1v1h-1zM823 313h1v3h-1zM823 470h1v1h-1zM1290 368h1v1h-1zM1290 470h1v1h-1zM1290 571h1v2h-1zM899 483h1v1h-1zM1026 394h1v1h-1zM1026 483h1v1h-1zM1306 483h1v1h-1zM1306 603h1v2h-1zM1404 482h1v2h-1zM1404 609h1v1h-1zM766 417h1v2h-1zM766 621h1v1h-1zM1481 621h1v1h-1zM150 147h1v3h-1zM150 459h1v1h-1zM689 450h1v1h-1zM689 542h1v1h-1zM963 427h1v1h-1zM963 542h1v1h-1zM1145 542h1v1h-1zM1173 542h1v1h-1zM1353 395h1v1h-1zM1353 542h1v2h-1zM1353 690h1v1h-1zM1428 542h1v1h-1zM1428 642h1v1h-1zM1428 742h1v1h-1zM470 422h1v1h-1zM552 298h1v2h-1zM552 422h1v1h-1zM641 421h1v2h-1zM764 421h1v2h-1zM1374 421h1v2h-1zM1374 572h1v1h-1zM256 305h1v1h-1zM256 394h1v2h-1zM472 333h1v1h-1zM472 425h1v1h-1zM1044 425h1v1h-1zM127 98h1v1h-1zM127 279h1v2h-1zM127 461h1v1h-1zM539 279h1v2h-1zM539 406h1v1h-1zM174 212h1v1h-1zM174 431h1v1h-1zM175 213h1v2h-1zM175 430h1v1h-1zM475 336h1v1h-1zM475 430h1v2h-1zM1048 430h1v1h-1zM263 299h1v1h-1zM263 383h1v1h-1zM615 382h1v2h-1zM791 383h1v1h-1zM76 97h1v2h-1zM76 216h1v1h-1zM76 331h1v4h-1zM295 331h1v1h-1zM469 331h1v1h-1zM469 420h1v2h-1zM928 331h1v1h-1zM928 480h1v1h-1zM980 331h1v2h-1zM980 444h1v2h-1zM980 558h1v1h-1zM252 308h1v1h-1zM252 401h1v2h-1zM454 317h1v1h-1zM454 401h1v2h-1zM534 267h1v2h-1zM534 401h1v1h-1zM777 401h1v1h-1zM265 380h1v1h-1zM443 379h1v2h-1zM516 233h1v2h-1zM516 380h1v1h-1zM516 528h1v1h-1zM613 380h1v1h-1zM793 380h1v2h-1zM1010 380h1v1h-1zM1010 472h1v1h-1zM107 74h1v1h-1zM107 254h1v1h-1zM107 433h1v2h-1zM476 432h1v2h-1zM561 296h1v1h-1zM561 432h1v2h-1zM561 568h1v4h-1zM666 433h1v1h-1zM666 529h1v1h-1zM757 433h1v1h-1zM1050 433h1v1h-1zM1148 433h1v2h-1zM1380 433h1v2h-1zM1380 579h1v1h-1zM455 318h1v1h-1zM455 403h1v1h-1zM821 318h1v2h-1zM821 473h1v1h-1zM821 627h1v1h-1zM800 367h1v2h-1zM800 501h1v1h-1zM1224 501h1v1h-1zM688 449h1v1h-1zM688 541h1v1h-1zM1146 488h1v1h-1zM1146 541h1v1h-1zM264 381h1v2h-1zM444 381h1v2h-1zM614 381h1v1h-1zM113 80h1v1h-1zM113 262h1v1h-1zM113 444h1v2h-1zM163 185h1v3h-1zM163 315h1v1h-1zM163 445h1v1h-1zM482 341h1v1h-1zM482 444h1v2h-1zM748 445h1v2h-1zM842 445h1v1h-1zM842 596h1v2h-1zM1061 445h1v1h-1zM1386 445h1v2h-1zM1386 587h1v1h-1zM650 615h1v1h-1zM1475 614h1v2h-1zM219 230h1v1h-1zM286 230h1v1h-1zM286 343h1v2h-1zM400 230h1v2h-1zM400 349h1v3h-1zM294 332h1v1h-1zM75 99h1v2h-1zM75 215h1v1h-1zM75 329h1v2h-1zM467 329h1v1h-1zM467 417h1v1h-1zM931 329h1v1h-1zM931 485h1v1h-1zM829 303h1v1h-1zM829 461h1v1h-1zM829 617h1v2h-1zM1317 494h1v1h-1zM1317 617h1v2h-1zM1410 494h1v2h-1zM1410 617h1v1h-1zM1477 617h1v1h-1zM110 77h1v1h-1zM110 258h1v1h-1zM110 439h1v2h-1zM167 196h1v2h-1zM167 439h1v1h-1zM479 339h1v1h-1zM479 438h1v2h-1zM566 439h1v1h-1zM566 584h1v3h-1zM680 439h1v1h-1zM753 439h1v1h-1zM847 296h1v1h-1zM847 439h1v1h-1zM847 581h1v4h-1zM1055 438h1v2h-1zM1136 439h1v1h-1zM1383 439h1v2h-1zM1383 583h1v1h-1zM287 231h1v1h-1zM287 342h1v1h-1zM416 231h1v1h-1zM137 116h1v2h-1zM137 291h1v1h-1zM1333 516h1v1h-1zM1333 659h1v2h-1zM1445 560h1v1h-1zM1445 659h1v1h-1zM1456 575h1v1h-1zM1456 668h1v1h-1zM944 319h1v1h-1zM944 507h1v2h-1zM1327 508h1v1h-1zM1327 643h1v2h-1zM1364 409h1v1h-1zM1364 558h1v2h-1zM1364 707h1v2h-1zM1444 558h1v2h-1zM1444 658h1v1h-1zM812 341h1v3h-1zM812 486h1v2h-1zM501 362h1v1h-1zM501 498h1v2h-1zM1226 499h1v1h-1zM1321 499h1v1h-1zM1321 627h1v2h-1zM164 188h1v2h-1zM164 443h1v2h-1zM684 443h1v2h-1zM684 538h1v1h-1zM749 444h1v1h-1zM1060 444h1v1h-1zM1128 444h1v1h-1zM1385 443h1v2h-1zM1385 585h1v2h-1zM565 438h1v1h-1zM565 581h1v3h-1zM1288 370h1v1h-1zM1288 566h1v3h-1zM1450 566h1v2h-1zM1450 663h1v1h-1zM144 131h1v3h-1zM144 298h1v1h-1zM410 298h1v1h-1zM410 369h1v1h-1zM850 298h1v1h-1zM850 435h1v1h-1zM850 572h1v3h-1zM247 313h1v1h-1zM247 409h1v1h-1zM631 408h1v2h-1zM1034 408h1v2h-1zM1034 490h1v1h-1zM1168 409h1v1h-1zM134 110h1v2h-1zM134 287h1v1h-1zM535 269h1v3h-1zM535 402h1v1h-1zM776 402h1v1h-1zM1031 402h1v2h-1zM1184 402h1v1h-1zM1184 533h1v1h-1zM92 234h1v1h-1zM92 395h1v3h-1zM291 234h1v1h-1zM291 336h1v1h-1zM487 233h1v2h-1zM487 346h1v1h-1zM487 458h1v3h-1zM578 304h1v2h-1zM578 456h1v2h-1zM578 609h1v2h-1zM692 455h1v2h-1zM692 545h1v1h-1zM1069 456h1v2h-1zM1069 554h1v2h-1zM1390 456h1v3h-1zM1390 592h1v2h-1zM145 134h1v2h-1zM145 299h1v1h-1zM851 299h1v1h-1zM851 434h1v1h-1zM851 568h1v4h-1zM141 124h1v2h-1zM141 295h1v1h-1zM550 294h1v2h-1zM550 419h1v1h-1zM562 294h1v2h-1zM562 434h1v1h-1zM562 572h1v4h-1zM572 294h1v2h-1zM572 447h1v2h-1zM572 599h1v2h-1zM840 295h1v1h-1zM840 447h1v1h-1zM840 599h1v1h-1zM846 295h1v1h-1zM846 440h1v1h-1zM846 585h1v3h-1zM1373 419h1v2h-1zM1373 570h1v2h-1zM1453 571h1v1h-1zM1453 666h1v1h-1zM1423 529h1v3h-1zM1423 635h1v2h-1zM395 240h1v1h-1zM395 333h1v1h-1zM26 308h1v1h-1zM111 78h1v1h-1zM111 259h1v2h-1zM111 441h1v1h-1zM166 193h1v3h-1zM166 440h1v2h-1zM480 440h1v2h-1zM567 440h1v2h-1zM567 587h1v2h-1zM682 441h1v1h-1zM751 441h1v2h-1zM751 531h1v1h-1zM1057 441h1v1h-1zM1384 441h1v2h-1zM1384 584h1v1h-1zM143 129h1v2h-1zM143 297h1v1h-1zM266 297h1v1h-1zM266 378h1v2h-1zM551 296h1v2h-1zM551 420h1v2h-1zM573 296h1v2h-1zM573 449h1v1h-1zM573 601h1v2h-1zM569 443h1v1h-1zM569 592h1v3h-1zM844 443h1v1h-1zM844 591h1v3h-1zM1467 592h1v2h-1zM1467 679h1v1h-1zM419 233h1v1h-1zM258 303h1v1h-1zM258 390h1v2h-1zM524 246h1v2h-1zM524 390h1v1h-1zM732 461h1v2h-1zM1103 460h1v2h-1zM1391 459h1v3h-1zM1391 594h1v1h-1zM20 303h1v1h-1zM149 144h1v3h-1zM149 303h1v1h-1zM149 460h1v1h-1zM138 118h1v2h-1zM138 292h1v1h-1zM515 232h1v1h-1zM515 379h1v1h-1zM515 526h1v2h-1zM663 527h1v1h-1zM866 527h1v2h-1zM954 527h1v2h-1zM1190 527h1v1h-1zM1342 379h1v1h-1zM1342 527h1v2h-1zM1342 675h1v2h-1zM1422 526h1v3h-1zM1422 634h1v1h-1zM1497 632h1v1h-1zM496 356h1v1h-1zM496 485h1v3h-1zM993 356h1v2h-1zM993 460h1v1h-1zM1195 522h1v1h-1zM1338 522h1v1h-1zM1338 669h1v2h-1zM627 403h1v1h-1zM775 403h1v2h-1zM1241 403h1v1h-1zM1241 497h1v2h-1zM165 190h1v3h-1zM165 442h1v1h-1zM246 314h1v1h-1zM246 410h1v2h-1zM459 321h1v1h-1zM459 410h1v1h-1zM632 410h1v1h-1zM1035 410h1v1h-1zM1035 491h1v1h-1zM1365 410h1v1h-1zM1365 560h1v1h-1zM1365 709h1v2h-1zM101 246h1v1h-1zM101 420h1v2h-1zM640 420h1v1h-1zM765 419h1v2h-1zM955 420h1v1h-1zM955 529h1v1h-1zM1041 420h1v2h-1zM1158 420h1v1h-1zM543 284h1v2h-1zM543 411h1v1h-1zM543 537h1v2h-1zM633 411h1v1h-1zM1165 411h1v1h-1zM771 408h1v1h-1zM1169 408h1v1h-1zM906 333h1v1h-1zM906 473h1v2h-1zM924 473h1v2h-1zM1295 474h1v1h-1zM1295 582h1v2h-1zM1397 474h1v1h-1zM1397 602h1v1h-1zM1397 730h1v1h-1zM891 488h1v1h-1zM1235 488h1v1h-1zM1312 488h1v1h-1zM1312 610h1v1h-1zM522 242h1v2h-1zM522 388h1v1h-1zM522 533h1v1h-1zM85 80h1v1h-1zM85 225h1v1h-1zM85 367h1v4h-1zM271 219h1v1h-1zM271 370h1v1h-1zM509 370h1v1h-1zM509 512h1v2h-1zM606 369h1v2h-1zM606 495h1v1h-1zM29 311h1v1h-1zM249 311h1v1h-1zM249 406h1v1h-1zM938 323h1v1h-1zM938 497h1v2h-1zM1181 535h1v1h-1zM683 442h1v1h-1zM683 537h1v1h-1zM728 466h1v1h-1zM728 545h1v1h-1zM1186 466h1v1h-1zM1186 531h1v1h-1zM33 315h1v1h-1zM451 315h1v1h-1zM451 395h1v2h-1zM968 315h1v1h-1zM968 431h1v1h-1zM968 547h1v1h-1zM126 96h1v2h-1zM126 278h1v1h-1zM126 460h1v1h-1zM468 330h1v1h-1zM468 418h1v2h-1zM902 330h1v1h-1zM902 479h1v1h-1zM177 216h1v2h-1zM31 313h1v1h-1zM161 179h1v3h-1zM161 313h1v1h-1zM161 447h1v1h-1zM499 360h1v1h-1zM499 494h1v2h-1zM1239 494h1v2h-1zM114 81h1v1h-1zM114 263h1v2h-1zM114 446h1v2h-1zM532 262h1v2h-1zM532 399h1v1h-1zM298 327h1v1h-1zM1301 479h1v1h-1zM1301 593h1v2h-1zM1461 582h1v2h-1zM1461 673h1v1h-1zM966 545h1v1h-1zM1142 491h1v1h-1zM1142 545h1v1h-1zM1355 398h1v1h-1zM1355 545h1v1h-1zM1355 692h1v1h-1zM612 378h1v2h-1zM1008 378h1v1h-1zM1341 378h1v1h-1zM1341 526h1v1h-1zM1341 674h1v1h-1zM694 459h1v2h-1zM694 547h1v1h-1zM1140 547h1v1h-1zM1432 547h1v1h-1zM1432 647h1v1h-1zM1432 747h1v1h-1zM498 359h1v1h-1zM498 491h1v3h-1zM602 362h1v2h-1zM602 491h1v2h-1zM808 350h1v2h-1zM808 492h1v1h-1zM888 492h1v1h-1zM935 492h1v1h-1zM1232 492h1v1h-1zM1237 406h1v1h-1zM1237 491h1v2h-1zM1478 618h1v1h-1zM623 395h1v2h-1zM623 614h1v1h-1zM649 614h1v1h-1zM1408 490h1v2h-1zM1408 614h1v1h-1zM1408 738h1v1h-1zM1296 584h1v2h-1zM1462 584h1v1h-1zM1462 674h1v1h-1zM792 382h1v1h-1zM1178 538h1v1h-1zM293 333h1v2h-1zM815 333h1v3h-1zM815 482h1v1h-1zM981 333h1v2h-1zM981 446h1v1h-1zM981 559h1v1h-1zM761 427h1v1h-1zM1153 427h1v1h-1zM1362 407h1v1h-1zM1362 555h1v2h-1zM1362 704h1v2h-1zM1442 556h1v1h-1zM1442 656h1v1h-1zM1442 755h1v1h-1zM982 335h1v2h-1zM982 447h1v2h-1zM982 560h1v1h-1zM1451 568h1v1h-1zM1451 664h1v1h-1zM809 348h1v2h-1zM809 490h1v2h-1zM889 490h1v2h-1zM934 490h1v2h-1zM1233 490h1v2h-1zM969 432h1v1h-1zM969 548h1v1h-1zM1433 548h1v1h-1zM1433 648h1v1h-1zM1433 748h1v1h-1zM463 236h1v1h-1zM463 325h1v1h-1zM936 325h1v1h-1zM936 493h1v2h-1zM976 325h1v1h-1zM976 440h1v1h-1zM976 554h1v1h-1zM162 182h1v3h-1zM162 314h1v1h-1zM162 446h1v1h-1zM483 342h1v1h-1zM483 446h1v2h-1zM686 446h1v1h-1zM1062 446h1v1h-1zM639 419h1v1h-1zM639 513h1v1h-1zM1330 512h1v2h-1zM1330 651h1v3h-1zM292 335h1v1h-1zM673 630h1v1h-1zM449 391h1v2h-1zM526 250h1v2h-1zM526 392h1v1h-1zM621 391h1v2h-1zM784 392h1v1h-1zM638 418h1v1h-1zM638 512h1v1h-1zM872 517h1v2h-1zM949 517h1v2h-1zM1199 518h1v1h-1zM1335 518h1v2h-1zM1335 663h1v2h-1zM423 236h1v1h-1zM1200 517h1v1h-1zM1269 395h1v1h-1zM1269 515h1v3h-1zM1334 517h1v1h-1zM1334 661h1v2h-1zM1418 515h1v3h-1zM1418 628h1v2h-1zM687 447h1v2h-1zM1063 447h1v2h-1zM1123 447h1v1h-1zM1387 447h1v3h-1zM1387 588h1v1h-1zM734 459h1v1h-1zM1104 459h1v1h-1zM668 626h1v1h-1zM1189 528h1v1h-1zM1289 369h1v1h-1zM1289 569h1v2h-1zM1372 417h1v2h-1zM1372 569h1v1h-1zM1452 569h1v2h-1zM1452 665h1v1h-1zM140 122h1v2h-1zM140 294h1v1h-1zM1163 413h1v1h-1zM254 397h1v2h-1zM452 397h1v2h-1zM530 258h1v2h-1zM530 397h1v1h-1zM624 397h1v2h-1zM624 505h1v1h-1zM780 397h1v2h-1zM1028 396h1v2h-1zM1028 485h1v1h-1zM122 91h1v1h-1zM122 274h1v1h-1zM122 457h1v1h-1zM152 153h1v3h-1zM152 305h1v1h-1zM152 457h1v1h-1zM735 457h1v2h-1zM989 348h1v2h-1zM989 457h1v1h-1zM1106 457h1v1h-1zM1449 565h1v1h-1zM1449 662h1v1h-1zM1482 622h1v1h-1zM537 274h1v3h-1zM537 404h1v1h-1zM1499 634h1v1h-1zM457 406h1v2h-1zM629 406h1v1h-1zM773 406h1v1h-1zM597 349h1v3h-1zM597 485h1v1h-1zM990 350h1v2h-1zM862 533h1v1h-1zM21 304h1v1h-1zM139 120h1v2h-1zM139 293h1v1h-1zM549 292h1v2h-1zM549 418h1v1h-1zM659 524h1v1h-1zM1193 524h1v1h-1zM956 421h1v1h-1zM956 530h1v2h-1zM1187 530h1v1h-1zM737 455h1v1h-1zM833 300h1v1h-1zM833 455h1v1h-1zM833 609h1v2h-1zM407 296h1v1h-1zM407 365h1v2h-1zM998 365h1v1h-1zM1310 365h1v1h-1zM1310 608h1v1h-1zM1463 585h1v2h-1zM1463 675h1v1h-1zM273 366h1v2h-1zM604 366h1v2h-1zM999 366h1v2h-1zM1311 366h1v1h-1zM1311 609h1v1h-1zM1011 473h1v1h-1zM1396 473h1v1h-1zM1396 601h1v1h-1zM1396 729h1v1h-1zM405 363h1v1h-1zM996 362h1v2h-1zM116 83h1v1h-1zM116 266h1v1h-1zM116 449h1v1h-1zM529 256h1v2h-1zM529 396h1v1h-1zM100 244h1v2h-1zM100 418h1v2h-1zM240 419h1v1h-1zM1040 418h1v2h-1zM1040 494h1v1h-1zM1159 418h1v2h-1zM241 417h1v2h-1zM1039 417h1v1h-1zM1473 608h1v3h-1zM1473 686h1v1h-1zM81 87h1v2h-1zM81 220h1v1h-1zM81 351h1v4h-1zM886 494h1v1h-1zM1230 494h1v1h-1zM646 611h1v1h-1zM674 631h1v1h-1zM1496 631h1v1h-1zM1441 555h1v1h-1zM1441 655h1v1h-1zM1440 554h1v1h-1zM1440 654h1v1h-1zM1492 628h1v1h-1zM1498 633h1v1h-1zM1219 507h1v1h-1zM733 460h1v1h-1zM1454 572h1v1h-1zM131 104h1v2h-1zM131 284h1v1h-1zM78 93h1v2h-1zM78 339h1v4h-1zM289 339h1v1h-1zM593 339h1v2h-1zM593 479h1v1h-1zM813 339h1v2h-1zM813 485h1v1h-1zM873 515h1v2h-1zM948 515h1v2h-1zM1202 515h1v1h-1zM1332 515h1v1h-1zM1332 657h1v2h-1zM779 399h1v1h-1zM1029 398h1v2h-1zM1029 486h1v1h-1zM1102 462h1v1h-1zM32 314h1v1h-1zM67 314h1v1h-1zM665 432h1v1h-1zM758 431h1v2h-1zM758 526h1v1h-1zM1049 431h1v2h-1zM1149 432h1v1h-1zM1379 431h1v2h-1zM1379 578h1v1h-1zM25 307h1v1h-1zM408 367h1v1h-1zM1401 479h1v1h-1zM1401 606h1v1h-1zM1401 733h1v1h-1zM667 625h1v1h-1zM1325 505h1v1h-1zM1325 637h1v3h-1zM630 407h1v1h-1zM772 407h1v1h-1zM1170 407h1v1h-1zM1305 482h1v1h-1zM1305 601h1v2h-1zM151 150h1v3h-1zM151 458h1v1h-1zM525 248h1v2h-1zM525 391h1v1h-1zM1144 543h1v1h-1zM1172 543h1v1h-1zM1429 543h1v1h-1zM1429 643h1v1h-1zM1429 743h1v1h-1zM170 204h1v2h-1zM170 434h1v2h-1zM477 434h1v2h-1zM756 434h1v2h-1zM1051 434h1v1h-1zM238 321h1v1h-1zM238 421h1v1h-1zM794 379h1v1h-1zM1009 379h1v1h-1zM838 449h1v1h-1zM838 602h1v1h-1zM112 79h1v1h-1zM112 261h1v1h-1zM112 442h1v2h-1zM481 442h1v2h-1zM1059 443h1v1h-1zM839 448h1v1h-1zM839 600h1v2h-1zM1122 448h1v1h-1zM531 260h1v2h-1zM531 398h1v1h-1zM159 174h1v2h-1zM159 449h1v2h-1zM744 449h1v1h-1zM1064 449h1v1h-1zM884 497h1v1h-1zM1228 497h1v1h-1zM619 388h1v1h-1zM787 388h1v1h-1zM1366 561h1v1h-1zM1366 711h1v2h-1zM610 375h1v2h-1zM610 498h1v1h-1zM883 498h1v1h-1zM1227 498h1v1h-1zM132 106h1v2h-1zM132 285h1v1h-1zM672 629h1v1h-1zM1493 629h1v1h-1zM1201 516h1v1h-1zM277 359h1v2h-1zM268 375h1v2h-1zM796 375h1v2h-1zM796 505h1v1h-1zM1504 637h1v1h-1zM923 472h1v1h-1zM123 92h1v1h-1zM123 275h1v1h-1zM123 458h1v1h-1zM681 440h1v1h-1zM752 440h1v1h-1zM1056 440h1v1h-1zM901 480h1v1h-1zM785 391h1v1h-1zM1024 391h1v1h-1zM176 215h1v1h-1zM879 505h1v1h-1zM1221 505h1v1h-1zM272 368h1v2h-1zM1001 369h1v1h-1zM288 340h1v2h-1zM837 450h1v1h-1zM837 603h1v1h-1zM1065 450h1v1h-1zM1119 450h1v1h-1zM1455 573h1v2h-1zM865 529h1v1h-1zM1188 529h1v1h-1zM281 351h1v2h-1zM598 352h1v2h-1zM598 486h1v1h-1zM807 352h1v2h-1zM807 493h1v1h-1zM991 352h1v2h-1zM1297 586h1v2h-1zM1464 587h1v1h-1zM1464 676h1v1h-1zM730 464h1v1h-1zM1100 464h1v1h-1zM644 609h1v1h-1zM669 627h1v1h-1zM1491 627h1v1h-1zM528 254h1v2h-1zM528 395h1v1h-1zM782 395h1v1h-1zM1446 561h1v1h-1zM142 126h1v3h-1zM142 296h1v1h-1zM135 112h1v2h-1zM135 288h1v2h-1zM1058 442h1v1h-1zM1131 442h1v1h-1zM1457 576h1v1h-1zM1457 669h1v1h-1zM725 468h1v1h-1zM1183 468h1v1h-1zM662 526h1v1h-1zM867 421h1v1h-1zM867 526h1v1h-1zM1191 526h1v1h-1zM404 362h1v1h-1zM1157 421h1v1h-1zM896 485h1v1h-1zM1308 485h1v1h-1zM1308 606h1v1h-1zM409 368h1v1h-1zM605 368h1v1h-1zM124 93h1v2h-1zM124 276h1v1h-1zM563 435h1v1h-1zM563 576h1v3h-1zM676 435h1v1h-1zM1052 435h1v1h-1zM1459 579h1v1h-1zM1459 671h1v1h-1zM1105 458h1v1h-1zM871 418h1v1h-1zM871 519h1v1h-1zM1198 519h1v1h-1zM280 353h1v2h-1zM664 431h1v1h-1zM1150 431h1v1h-1zM887 493h1v1h-1zM1231 493h1v1h-1zM1238 493h1v1h-1zM28 310h1v1h-1zM679 438h1v1h-1zM125 95h1v1h-1zM125 277h1v1h-1zM1292 576h1v2h-1zM1293 578h1v2h-1zM1458 577h1v2h-1zM1458 670h1v1h-1zM1439 753h1v1h-1zM645 610h1v1h-1zM255 396h1v1h-1zM781 396h1v1h-1zM1438 752h1v1h-1zM1506 755h1v1h-1z"/>
<path fill="#ff0000" shape-rendering="crispEdges" d="M1123 4h8v1h-8zM32 101h4v1h-4zM309 101h8v1h-8zM363 526h4v1h-4zM1294 526h8v1h-8zM1688 526h4v1h-4zM149 471h3v1h-3zM1474 471h3v1h-3zM1757 471h8v1h-8zM452 549h4v1h-4zM1100 549h9v1h-9zM1778 549h3v1h-3zM1072 368h4v1h-4zM896 31h9v1h-9zM158 661h9v1h-9zM889 661h4v1h-4zM24 99h4v1h-4zM326 99h8v1h-8zM273 163h4v1h-4zM203 145h4v1h-4zM417 540h4v1h-4zM1176 540h9v1h-9zM1742 540h4v1h-4zM32 676h8v1h-8zM947 676h4v1h-4zM495 621h8v1h-8zM733 621h4v1h-4zM579 611h8v1h-8zM694 611h4v1h-4zM1081 9h8v1h-8zM1131 383h4v1h-4zM78 113h4v1h-4zM208 113h8v1h-8zM1130 723h4v1h-4zM152 472h4v1h-4zM1477 472h4v1h-4zM1748 472h9v1h-9zM262 500h3v1h-3zM1513 500h8v1h-8zM1587 500h3v1h-3zM963 23h9v1h-9zM57 673h9v1h-9zM936 673h3v1h-3zM472 554h4v1h-4zM1058 554h9v1h-9zM1797 554h4v1h-4zM421 541h4v1h-4zM1168 541h8v1h-8zM1746 541h4v1h-4zM207 486h4v1h-4zM1532 486h4v1h-4zM1631 486h8v1h-8zM67 450h4v1h-4zM1392 450h4v1h-4zM1555 832h4v1h-4zM503 562h4v1h-4zM991 562h9v1h-9zM1828 562h4v1h-4zM562 613h8v1h-8zM702 613h4v1h-4zM215 488h4v1h-4zM1540 488h4v1h-4zM1614 488h8v1h-8zM368 636h9v1h-9zM791 636h4v1h-4zM955 24h8v1h-8zM1290 424h4v1h-4zM55 107h4v1h-4zM258 107h9v1h-9zM441 546h4v1h-4zM1126 546h8v1h-8zM1766 546h4v1h-4zM1107 717h4v1h-4zM12 96h4v1h-4zM351 96h8v1h-8zM227 491h3v1h-3zM1551 491h4v1h-4zM1588 491h9v1h-9zM176 478h4v1h-4zM1501 478h4v1h-4zM1698 478h8v1h-8zM1602 844h4v1h-4zM545 615h9v1h-9zM710 615h3v1h-3zM24 439h4v1h-4zM1349 439h4v1h-4zM297 169h4v1h-4zM495 560h4v1h-4zM1008 560h8v1h-8zM1820 560h4v1h-4zM390 533h4v1h-4zM1235 533h9v1h-9zM1715 533h4v1h-4zM326 641h9v1h-9zM811 641h4v1h-4zM913 29h8v1h-8zM230 492h4v1h-4zM1555 492h4v1h-4zM1580 492h8v1h-8zM265 501h4v1h-4zM1504 501h9v1h-9zM1590 501h4v1h-4zM195 483h4v1h-4zM1520 483h4v1h-4zM1656 483h8v1h-8zM20 98h4v1h-4zM334 98h8v1h-8zM285 506h4v1h-4zM1462 506h9v1h-9zM1610 506h4v1h-4zM795 43h9v1h-9zM520 618h8v1h-8zM721 618h4v1h-4zM499 561h4v1h-4zM1000 561h8v1h-8zM1824 561h4v1h-4zM1158 390h4v1h-4zM106 120h4v1h-4zM149 120h9v1h-9zM464 552h4v1h-4zM1075 552h9v1h-9zM1789 552h4v1h-4zM75 112h3v1h-3zM216 112h9v1h-9zM394 633h8v1h-8zM780 633h4v1h-4zM310 643h8v1h-8zM819 643h4v1h-4zM963 340h4v1h-4zM3 680h4v1h-4zM963 680h4v1h-4zM75 452h3v1h-3zM1400 452h3v1h-3zM787 44h8v1h-8zM1146 727h4v1h-4zM164 475h4v1h-4zM1489 475h4v1h-4zM1723 475h9v1h-9zM1582 839h4v1h-4zM863 35h8v1h-8zM530 569h4v1h-4zM932 569h9v1h-9zM519 566h4v1h-4zM957 566h9v1h-9zM1844 566h4v1h-4zM90 116h4v1h-4zM183 116h8v1h-8zM304 511h4v1h-4zM1420 511h9v1h-9zM1629 511h4v1h-4zM254 498h4v1h-4zM1530 498h8v1h-8zM1579 498h4v1h-4zM99 126h8v1h-8zM129 126h4v1h-4zM1021 695h4v1h-4zM242 495h4v1h-4zM1555 495h8v1h-8zM1567 495h4v1h-4zM1387 789h4v1h-4zM377 635h8v1h-8zM787 635h4v1h-4zM573 580h4v1h-4zM840 580h8v1h-8zM589 584h4v1h-4zM806 584h8v1h-8zM82 114h4v1h-4zM200 114h8v1h-8zM745 49h9v1h-9zM1629 851h4v1h-4zM940 334h4v1h-4zM284 646h9v1h-9zM830 646h4v1h-4zM51 446h4v1h-4zM1376 446h4v1h-4zM98 118h4v1h-4zM166 118h9v1h-9zM324 176h4v1h-4zM628 63h8v1h-8zM141 469h4v1h-4zM1466 469h4v1h-4zM1774 469h8v1h-8zM577 581h4v1h-4zM831 581h9v1h-9zM507 223h4v1h-4zM1181 396h4v1h-4zM542 572h4v1h-4zM907 572h8v1h-8zM49 132h8v1h-8zM153 132h3v1h-3zM293 508h4v1h-4zM1445 508h9v1h-9zM1618 508h4v1h-4zM749 285h4v1h-4zM619 64h9v1h-9zM98 458h4v1h-4zM1423 458h4v1h-4zM1185 397h4v1h-4zM1239 751h4v1h-4zM281 505h4v1h-4zM1471 505h8v1h-8zM1606 505h4v1h-4zM695 55h8v1h-8zM597 586h3v1h-3zM789 586h9v1h-9zM1606 845h3v1h-3zM546 573h4v1h-4zM899 573h8v1h-8zM990 347h4v1h-4zM40 133h9v1h-9zM156 133h4v1h-4zM191 142h4v1h-4zM209 655h8v1h-8zM865 655h4v1h-4zM1232 409h4v1h-4zM577 69h9v1h-9zM1048 702h4v1h-4zM269 502h4v1h-4zM1496 502h8v1h-8zM1594 502h4v1h-4zM1415 796h4v1h-4zM565 578h4v1h-4zM856 578h9v1h-9zM180 479h4v1h-4zM1505 479h4v1h-4zM1689 479h9v1h-9zM616 591h4v1h-4zM747 591h9v1h-9zM234 652h8v1h-8zM854 652h4v1h-4zM655 601h4v1h-4zM663 601h8v1h-8zM511 564h4v1h-4zM974 564h9v1h-9zM1836 564h4v1h-4zM1656 858h4v1h-4zM967 341h4v1h-4zM225 653h9v1h-9zM858 653h4v1h-4zM644 61h9v1h-9zM78 453h4v1h-4zM1403 453h4v1h-4zM585 583h4v1h-4zM814 583h9v1h-9zM451 84h9v1h-9zM646 603h9v1h-9zM663 603h4v1h-4zM65 130h9v1h-9zM145 130h4v1h-4zM359 525h4v1h-4zM1302 525h9v1h-9zM1684 525h4v1h-4zM1209 403h3v1h-3zM1099 715h4v1h-4zM621 606h8v1h-8zM675 606h3v1h-3zM410 198h4v1h-4zM776 292h4v1h-4zM125 465h4v1h-4zM1450 465h4v1h-4zM1807 465h9v1h-9zM40 675h9v1h-9zM943 675h4v1h-4zM215 148h4v1h-4zM1267 758h4v1h-4zM1089 8h9v1h-9zM581 242h4v1h-4zM409 89h9v1h-9zM398 535h4v1h-4zM1218 535h9v1h-9zM1723 535h4v1h-4zM1018 354h4v1h-4zM23 135h9v1h-9zM164 135h4v1h-4zM276 647h8v1h-8zM834 647h4v1h-4zM219 149h4v1h-4zM643 598h4v1h-4zM688 598h9v1h-9zM1508 820h4v1h-4zM639 597h4v1h-4zM697 597h8v1h-8zM1259 416h4v1h-4zM1076 709h4v1h-4zM382 531h4v1h-4zM1252 531h8v1h-8zM1707 531h4v1h-4zM15 136h8v1h-8zM168 136h4v1h-4zM477 81h8v1h-8zM175 659h8v1h-8zM881 659h4v1h-4zM183 658h9v1h-9zM877 658h4v1h-4zM1317 771h4v1h-4zM1683 865h4v1h-4zM437 545h4v1h-4zM1134 545h9v1h-9zM1762 545h4v1h-4zM449 548h3v1h-3zM1109 548h8v1h-8zM1774 548h4v1h-4zM1039 14h8v1h-8zM66 672h8v1h-8zM932 672h4v1h-4zM799 298h4v1h-4zM351 523h4v1h-4zM1319 523h9v1h-9zM1676 523h4v1h-4zM587 610h9v1h-9zM690 610h4v1h-4zM137 468h4v1h-4zM1462 468h4v1h-4zM1782 468h8v1h-8zM1236 410h4v1h-4zM638 604h8v1h-8zM667 604h4v1h-4zM376 93h8v1h-8zM921 28h9v1h-9zM437 205h4v1h-4zM402 536h4v1h-4zM1210 536h8v1h-8zM1727 536h4v1h-4zM1106 6h8v1h-8zM242 155h4v1h-4zM1294 765h4v1h-4zM608 249h4v1h-4zM371 528h4v1h-4zM1277 528h9v1h-9zM1696 528h4v1h-4zM156 473h4v1h-4zM1481 473h4v1h-4zM1740 473h8v1h-8zM145 470h4v1h-4zM1470 470h4v1h-4zM1765 470h9v1h-9zM211 487h4v1h-4zM1536 487h4v1h-4zM1622 487h9v1h-9zM460 551h4v1h-4zM1084 551h8v1h-8zM1785 551h4v1h-4zM1535 827h4v1h-4zM301 510h3v1h-3zM1429 510h8v1h-8zM1626 510h3v1h-3zM15 678h9v1h-9zM955 678h4v1h-4zM478 623h8v1h-8zM741 623h4v1h-4zM1103 376h4v1h-4zM51 106h4v1h-4zM267 106h8v1h-8zM1064 11h8v1h-8zM503 620h9v1h-9zM729 620h4v1h-4zM160 474h4v1h-4zM1485 474h4v1h-4zM1732 474h8v1h-8zM871 34h8v1h-8zM116 666h8v1h-8zM908 666h4v1h-4zM20 438h4v1h-4zM1345 438h4v1h-4zM293 168h4v1h-4zM40 443h3v1h-3zM1364 443h4v1h-4zM110 461h4v1h-4zM1435 461h3v1h-3zM1841 461h8v1h-8zM429 543h4v1h-4zM1151 543h8v1h-8zM1754 543h4v1h-4zM40 103h3v1h-3zM292 103h8v1h-8zM469 624h9v1h-9zM745 624h4v1h-4zM655 261h4v1h-4zM476 555h4v1h-4zM1050 555h8v1h-8zM1801 555h4v1h-4zM967 681h4v1h-4zM1333 775h4v1h-4zM352 638h8v1h-8zM799 638h4v1h-4zM528 617h9v1h-9zM717 617h4v1h-4zM938 26h9v1h-9zM28 100h4v1h-4zM317 100h9v1h-9zM1574 837h4v1h-4zM234 493h4v1h-4zM1559 493h4v1h-4zM1572 493h8v1h-8zM8 95h4v1h-4zM359 95h9v1h-9zM402 632h9v1h-9zM776 632h4v1h-4zM110 121h4v1h-4zM141 121h8v1h-8zM269 162h4v1h-4zM1127 382h4v1h-4zM238 494h4v1h-4zM1563 494h9v1h-9zM511 224h4v1h-4zM328 517h4v1h-4zM1370 517h8v1h-8zM1653 517h4v1h-4zM694 271h4v1h-4zM779 45h8v1h-8zM507 563h4v1h-4zM983 563h8v1h-8zM1832 563h4v1h-4zM43 444h4v1h-4zM1368 444h4v1h-4zM480 556h4v1h-4zM1042 556h8v1h-8zM1805 556h4v1h-4zM301 644h9v1h-9zM823 644h3v1h-3zM1551 831h4v1h-4zM569 579h4v1h-4zM848 579h8v1h-8zM936 333h4v1h-4zM47 445h4v1h-4zM1372 445h4v1h-4zM1426 799h4v1h-4zM770 46h9v1h-9zM1177 395h4v1h-4zM526 568h4v1h-4zM941 568h8v1h-8zM994 688h4v1h-4zM86 115h4v1h-4zM191 115h9v1h-9zM1360 782h4v1h-4zM581 582h4v1h-4zM823 582h8v1h-8zM1235 750h4v1h-4zM456 550h4v1h-4zM1092 550h8v1h-8zM1781 550h4v1h-4zM728 51h9v1h-9zM837 38h9v1h-9zM367 527h4v1h-4zM1286 527h8v1h-8zM1692 527h4v1h-4zM912 327h4v1h-4zM316 514h4v1h-4zM1395 514h8v1h-8zM1641 514h4v1h-4zM343 639h9v1h-9zM803 639h4v1h-4zM611 65h8v1h-8zM788 295h4v1h-4zM608 589h4v1h-4zM764 589h8v1h-8zM1154 389h4v1h-4zM1045 701h3v1h-3zM720 52h8v1h-8zM721 278h4v1h-4zM71 451h4v1h-4zM1396 451h4v1h-4zM602 66h9v1h-9zM597 246h4v1h-4zM527 228h4v1h-4zM604 588h4v1h-4zM772 588h9v1h-9zM554 575h4v1h-4zM882 575h8v1h-8zM312 513h4v1h-4zM1403 513h9v1h-9zM1637 513h4v1h-4zM1454 806h4v1h-4zM192 657h8v1h-8zM873 657h4v1h-4zM1205 402h4v1h-4zM561 71h8v1h-8zM670 58h8v1h-8zM406 197h4v1h-4zM336 179h4v1h-4zM258 499h4v1h-4zM1521 499h9v1h-9zM1583 499h4v1h-4zM293 645h8v1h-8zM826 645h4v1h-4zM1263 417h4v1h-4zM1263 757h4v1h-4zM394 534h4v1h-4zM1227 534h8v1h-8zM1719 534h4v1h-4zM259 649h9v1h-9zM842 649h4v1h-4zM552 72h9v1h-9zM1068 707h4v1h-4zM745 284h4v1h-4zM815 302h4v1h-4zM1687 866h4v1h-4zM636 596h3v1h-3zM705 596h8v1h-8zM141 663h9v1h-9zM897 663h3v1h-3zM632 595h4v1h-4zM713 595h9v1h-9zM986 346h4v1h-4zM188 141h3v1h-3zM24 677h8v1h-8zM951 677h4v1h-4zM8 435h4v1h-4zM1333 435h4v1h-4zM554 235h4v1h-4zM624 253h4v1h-4zM1072 10h9v1h-9zM502 78h8v1h-8zM596 609h8v1h-8zM686 609h4v1h-4zM429 203h4v1h-4zM1481 813h4v1h-4zM523 567h3v1h-3zM949 567h8v1h-8zM1848 567h4v1h-4zM651 600h4v1h-4zM671 600h9v1h-9zM612 590h4v1h-4zM756 590h8v1h-8zM460 83h8v1h-8zM238 154h4v1h-4zM1095 714h4v1h-4zM1022 16h8v1h-8zM842 309h4v1h-4zM443 85h8v1h-8zM1520 823h4v1h-4zM124 665h9v1h-9zM904 665h4v1h-4zM184 480h4v1h-4zM1509 480h4v1h-4zM1681 480h8v1h-8zM510 77h9v1h-9zM456 210h4v1h-4zM468 553h4v1h-4zM1067 553h8v1h-8zM1793 553h4v1h-4zM640 257h4v1h-4zM1314 430h4v1h-4zM355 524h4v1h-4zM1311 524h8v1h-8zM1680 524h4v1h-4zM425 542h4v1h-4zM1159 542h9v1h-9zM1750 542h4v1h-4zM486 622h9v1h-9zM737 622h4v1h-4zM445 547h4v1h-4zM1117 547h9v1h-9zM1770 547h4v1h-4zM515 565h4v1h-4zM966 565h8v1h-8zM1840 565h4v1h-4zM881 319h4v1h-4zM168 476h4v1h-4zM1493 476h4v1h-4zM1715 476h8v1h-8zM854 36h9v1h-9zM1318 431h4v1h-4zM1372 785h4v1h-4zM1123 381h4v1h-4zM47 105h4v1h-4zM275 105h9v1h-9zM453 626h8v1h-8zM752 626h4v1h-4zM1181 736h4v1h-4zM1547 830h4v1h-4zM16 97h4v1h-4zM342 97h9v1h-9zM1099 375h4v1h-4zM990 687h4v1h-4zM246 496h4v1h-4zM1546 496h9v1h-9zM1571 496h4v1h-4zM16 437h4v1h-4zM1341 437h4v1h-4zM909 326h3v1h-3zM1399 792h4v1h-4zM714 276h4v1h-4zM754 48h8v1h-8zM1150 388h4v1h-4zM484 557h4v1h-4zM1033 557h9v1h-9zM1809 557h4v1h-4zM1641 854h4v1h-4zM94 117h4v1h-4zM175 117h8v1h-8zM411 631h8v1h-8zM772 631h4v1h-4zM1208 743h4v1h-4zM59 108h4v1h-4zM250 108h8v1h-8zM339 520h4v1h-4zM1344 520h9v1h-9zM1665 520h3v1h-3zM223 490h4v1h-4zM1548 490h3v1h-3zM1597 490h8v1h-8zM712 53h8v1h-8zM821 40h8v1h-8zM538 571h4v1h-4zM915 571h9v1h-9zM1013 693h4v1h-4zM324 516h4v1h-4zM1378 516h9v1h-9zM1649 516h4v1h-4zM1450 805h4v1h-4zM335 640h8v1h-8zM807 640h4v1h-4zM593 585h4v1h-4zM798 585h8v1h-8zM1017 694h4v1h-4zM703 54h9v1h-9zM1002 350h4v1h-4zM932 332h4v1h-4zM91 127h8v1h-8zM133 127h4v1h-4zM117 123h4v1h-4zM124 123h9v1h-9zM586 68h8v1h-8zM562 577h3v1h-3zM865 577h8v1h-8zM375 189h4v1h-4zM7 137h8v1h-8zM172 137h4v1h-4zM811 301h4v1h-4zM741 283h4v1h-4zM558 576h4v1h-4zM873 576h9v1h-9zM1232 749h3v1h-3zM82 128h9v1h-9zM137 128h4v1h-4zM1668 861h4v1h-4zM544 73h8v1h-8zM653 60h8v1h-8zM3 138h4v1h-4zM176 138h4v1h-4zM184 140h4v1h-4zM167 660h8v1h-8zM885 660h4v1h-4zM1041 700h4v1h-4zM535 74h9v1h-9zM351 183h4v1h-4zM172 477h4v1h-4zM1497 477h4v1h-4zM1706 477h9v1h-9zM1282 762h4v1h-4zM413 539h4v1h-4zM1185 539h8v1h-8zM1739 539h3v1h-3zM959 339h4v1h-4zM1029 357h4v1h-4zM242 651h9v1h-9zM850 651h4v1h-4zM32 134h8v1h-8zM160 134h4v1h-4zM289 507h4v1h-4zM1454 507h8v1h-8zM1614 507h4v1h-4zM1707 871h4v1h-4zM1091 713h4v1h-4zM378 530h4v1h-4zM1260 530h9v1h-9zM1703 530h4v1h-4zM402 196h4v1h-4zM768 290h4v1h-4zM207 146h4v1h-4zM1259 756h4v1h-4zM644 258h3v1h-3zM1047 13h9v1h-9zM827 305h4v1h-4zM211 147h4v1h-4zM1068 367h4v1h-4zM379 190h3v1h-3zM199 484h4v1h-4zM1524 484h4v1h-4zM1647 484h9v1h-9zM1005 18h9v1h-9zM435 86h8v1h-8zM1310 429h4v1h-4zM620 252h4v1h-4zM604 608h8v1h-8zM682 608h4v1h-4zM1493 816h3v1h-3zM1045 361h4v1h-4zM879 33h9v1h-9zM1287 423h3v1h-3zM234 153h4v1h-4zM1286 763h4v1h-4zM854 312h4v1h-4zM203 485h4v1h-4zM1528 485h4v1h-4zM1639 485h8v1h-8zM655 602h8v1h-8zM1096 374h3v1h-3zM43 104h4v1h-4zM284 104h8v1h-8zM436 628h8v1h-8zM760 628h4v1h-4zM1586 840h4v1h-4zM901 324h4v1h-4zM829 39h8v1h-8zM12 436h4v1h-4zM1337 436h4v1h-4zM102 459h4v1h-4zM1427 459h4v1h-4zM905 30h8v1h-8zM647 259h4v1h-4zM7 679h8v1h-8zM959 679h4v1h-4zM1395 791h4v1h-4zM1325 773h4v1h-4zM419 630h8v1h-8zM768 630h4v1h-4zM262 160h4v1h-4zM1204 742h4v1h-4zM1119 380h4v1h-4zM268 648h8v1h-8zM838 648h4v1h-4zM320 175h4v1h-4zM320 515h4v1h-4zM1387 515h8v1h-8zM1645 515h4v1h-4zM686 269h4v1h-4zM737 50h8v1h-8zM1177 735h4v1h-4zM1613 847h4v1h-4zM928 331h4v1h-4zM102 119h4v1h-4zM158 119h8v1h-8zM1419 797h3v1h-3zM986 686h4v1h-4zM1422 798h4v1h-4zM318 642h8v1h-8zM815 642h4v1h-4zM1228 748h4v1h-4zM600 587h4v1h-4zM781 587h8v1h-8zM538 231h4v1h-4zM71 111h4v1h-4zM225 111h8v1h-8zM686 56h9v1h-9zM360 637h8v1h-8zM795 637h4v1h-4zM780 293h4v1h-4zM107 125h9v1h-9zM125 125h4v1h-4zM569 70h8v1h-8zM1216 405h4v1h-4zM1146 387h4v1h-4zM1037 699h4v1h-4zM385 634h9v1h-9zM784 634h3v1h-3zM347 182h4v1h-4zM589 244h4v1h-4zM308 512h4v1h-4zM1412 512h8v1h-8zM1633 512h4v1h-4zM955 338h4v1h-4zM624 593h4v1h-4zM730 593h9v1h-9zM1446 804h4v1h-4zM150 662h8v1h-8zM893 662h4v1h-4zM1014 353h4v1h-4zM57 131h8v1h-8zM149 131h4v1h-4zM398 195h4v1h-4zM519 76h8v1h-8zM114 122h3v1h-3zM133 122h8v1h-8zM277 504h4v1h-4zM1479 504h9v1h-9zM1602 504h4v1h-4zM1255 415h4v1h-4zM1255 755h4v1h-4zM566 238h3v1h-3zM1438 802h4v1h-4zM386 532h4v1h-4zM1244 532h8v1h-8zM1711 532h4v1h-4zM1496 817h4v1h-4zM332 518h4v1h-4zM1361 518h9v1h-9zM1657 518h4v1h-4zM807 300h4v1h-4zM117 463h4v1h-4zM1442 463h4v1h-4zM1824 463h8v1h-8zM1680 864h3v1h-3zM628 594h4v1h-4zM722 594h8v1h-8zM1174 394h3v1h-3zM99 668h9v1h-9zM916 668h4v1h-4zM1049 362h4v1h-4zM180 139h4v1h-4zM616 251h4v1h-4zM1030 15h9v1h-9zM421 201h4v1h-4zM1473 811h4v1h-4zM629 605h9v1h-9zM671 605h4v1h-4zM1041 360h4v1h-4zM251 650h8v1h-8zM846 650h4v1h-4zM1283 422h4v1h-4zM410 538h3v1h-3zM1193 538h8v1h-8zM1735 538h4v1h-4zM418 88h8v1h-8zM593 245h4v1h-4zM1088 372h4v1h-4zM612 607h9v1h-9zM678 607h4v1h-4zM980 21h8v1h-8zM834 307h4v1h-4zM401 90h8v1h-8zM1512 821h4v1h-4zM537 616h8v1h-8zM713 616h4v1h-4zM461 625h8v1h-8zM749 625h3v1h-3zM449 208h4v1h-4zM468 82h9v1h-9zM632 255h4v1h-4zM488 558h3v1h-3zM1025 558h8v1h-8zM1813 558h3v1h-3zM1306 428h4v1h-4zM444 627h9v1h-9zM756 627h4v1h-4zM873 317h4v1h-4zM188 481h3v1h-3zM1513 481h3v1h-3zM1673 481h8v1h-8zM812 41h9v1h-9zM1364 783h4v1h-4zM426 87h9v1h-9zM1115 379h4v1h-4zM67 110h4v1h-4zM233 110h9v1h-9zM997 19h8v1h-8zM1173 734h4v1h-4zM1609 846h4v1h-4zM1539 828h4v1h-4zM36 102h4v1h-4zM300 102h9v1h-9zM725 279h4v1h-4zM1092 373h4v1h-4zM982 685h4v1h-4zM1150 728h4v1h-4zM534 230h4v1h-4zM534 570h4v1h-4zM924 570h8v1h-8zM1391 790h4v1h-4zM1142 386h4v1h-4zM343 181h4v1h-4zM1633 852h4v1h-4zM427 629h9v1h-9zM764 629h4v1h-4zM1201 401h4v1h-4zM1200 741h4v1h-4zM1006 691h4v1h-4zM1442 803h4v1h-4zM343 521h4v1h-4zM1336 521h8v1h-8zM1668 521h4v1h-4zM753 286h4v1h-4zM1625 850h4v1h-4zM661 59h9v1h-9zM994 348h4v1h-4zM36 442h4v1h-4zM1361 442h3v1h-3zM562 237h4v1h-4zM94 457h4v1h-4zM1419 457h4v1h-4zM367 187h4v1h-4zM803 299h4v1h-4zM133 664h8v1h-8zM900 664h4v1h-4zM1224 747h4v1h-4zM336 519h3v1h-3zM1353 519h8v1h-8zM1661 519h4v1h-4zM1660 859h4v1h-4zM1228 408h4v1h-4zM1033 698h4v1h-4zM200 656h9v1h-9zM869 656h4v1h-4zM82 670h9v1h-9zM924 670h4v1h-4zM1131 3h9v1h-9zM129 466h4v1h-4zM1454 466h4v1h-4zM1799 466h8v1h-8zM1699 869h4v1h-4zM1010 692h3v1h-3zM1014 17h8v1h-8zM121 464h4v1h-4zM1446 464h4v1h-4zM1816 464h8v1h-8zM394 194h4v1h-4zM1251 754h4v1h-4zM819 303h4v1h-4zM1676 863h4v1h-4zM1060 365h4v1h-4zM108 667h8v1h-8zM912 667h4v1h-4zM371 188h4v1h-4zM1302 427h4v1h-4zM1119 720h4v1h-4zM1485 814h4v1h-4zM384 92h9v1h-9zM1037 359h4v1h-4zM74 671h8v1h-8zM928 671h4v1h-4zM1279 421h4v1h-4zM1278 761h4v1h-4zM1169 733h4v1h-4zM480 216h4v1h-4zM846 310h4v1h-4zM988 20h9v1h-9zM1337 776h4v1h-4zM289 167h4v1h-4zM1578 838h4v1h-4zM698 272h4v1h-4zM273 503h4v1h-4zM1488 503h8v1h-8zM1598 503h4v1h-4zM312 173h4v1h-4zM316 174h4v1h-4zM116 124h9v1h-9zM1411 795h4v1h-4zM978 684h4v1h-4zM90 456h4v1h-4zM1415 456h4v1h-4zM363 186h4v1h-4zM250 497h4v1h-4zM1538 497h8v1h-8zM1575 497h4v1h-4zM531 229h3v1h-3zM620 592h4v1h-4zM739 592h8v1h-8zM772 291h4v1h-4zM340 180h3v1h-3zM1197 740h3v1h-3zM1006 351h4v1h-4zM390 193h4v1h-4zM1248 413h3v1h-3zM1064 706h4v1h-4zM558 236h4v1h-4zM1430 800h4v1h-4zM1306 768h4v1h-4zM1114 5h9v1h-9zM1672 862h4v1h-4zM406 537h4v1h-4zM1201 537h9v1h-9zM1731 537h4v1h-4zM858 313h4v1h-4zM1224 407h4v1h-4zM1115 719h4v1h-4zM792 296h4v1h-4zM527 75h8v1h-8zM667 264h4v1h-4zM1033 358h4v1h-4zM1524 824h4v1h-4zM485 80h8v1h-8zM1275 420h4v1h-4zM114 462h3v1h-3zM1438 462h4v1h-4zM1832 462h9v1h-9zM947 25h8v1h-8zM585 243h4v1h-4zM476 215h4v1h-4zM570 612h9v1h-9zM698 612h4v1h-4zM1138 725h4v1h-4zM885 320h4v1h-4zM554 614h8v1h-8zM706 614h4v1h-4zM1251 414h4v1h-4zM258 159h4v1h-4zM1310 769h3v1h-3zM191 482h4v1h-4zM1516 482h4v1h-4zM1664 482h9v1h-9zM499 221h4v1h-4zM1356 781h4v1h-4zM503 222h4v1h-4zM308 172h4v1h-4zM491 559h4v1h-4zM1016 559h9v1h-9zM1816 559h4v1h-4zM1165 732h4v1h-4zM297 509h4v1h-4zM1437 509h8v1h-8zM1622 509h4v1h-4zM718 277h3v1h-3zM974 683h4v1h-4zM285 166h4v1h-4zM1142 726h4v1h-4zM1384 788h3v1h-3zM1193 399h4v1h-4zM1193 739h4v1h-4zM577 241h4v1h-4zM846 37h8v1h-8zM1617 848h4v1h-4zM1170 393h4v1h-4zM550 574h4v1h-4zM890 574h9v1h-9zM86 455h4v1h-4zM1411 455h4v1h-4zM979 344h4v1h-4zM91 669h8v1h-8zM920 669h4v1h-4zM678 57h8v1h-8zM1469 810h4v1h-4zM1220 406h4v1h-4zM63 449h4v1h-4zM1388 449h4v1h-4zM1645 855h3v1h-3zM1197 400h4v1h-4zM972 22h8v1h-8zM445 207h4v1h-4zM347 522h4v1h-4zM1328 522h8v1h-8zM1672 522h4v1h-4zM1302 767h4v1h-4zM254 158h4v1h-4zM1543 829h4v1h-4zM1111 718h4v1h-4zM1352 780h4v1h-4zM663 263h4v1h-4zM230 152h4v1h-4zM905 325h4v1h-4zM1161 731h4v1h-4zM1087 712h4v1h-4zM472 214h4v1h-4zM838 308h4v1h-4zM1329 774h4v1h-4zM4 94h4v1h-4zM368 94h8v1h-8zM281 165h4v1h-4zM1571 836h3v1h-3zM133 467h4v1h-4zM1458 467h4v1h-4zM1790 467h9v1h-9zM523 227h4v1h-4zM55 447h4v1h-4zM1380 447h4v1h-4zM1380 787h4v1h-4zM690 270h4v1h-4zM63 109h4v1h-4zM242 109h8v1h-8zM888 32h8v1h-8zM32 441h4v1h-4zM1357 441h4v1h-4zM305 171h3v1h-3zM1598 843h4v1h-4zM1166 392h4v1h-4zM74 129h8v1h-8zM141 129h4v1h-4zM82 454h4v1h-4zM1407 454h4v1h-4zM1465 809h4v1h-4zM59 448h4v1h-4zM1384 448h4v1h-4zM332 178h4v1h-4zM998 349h4v1h-4zM199 144h4v1h-4zM1489 815h4v1h-4zM1056 704h4v1h-4zM550 234h4v1h-4zM217 654h8v1h-8zM862 654h3v1h-3zM1298 766h4v1h-4zM359 185h4v1h-4zM493 79h9v1h-9zM850 311h4v1h-4zM418 200h3v1h-3zM1274 760h4v1h-4zM659 262h4v1h-4zM1025 356h4v1h-4zM227 151h3v1h-3zM49 674h8v1h-8zM939 674h4v1h-4zM1516 822h4v1h-4zM1098 7h8v1h-8zM1084 711h3v1h-3zM468 213h4v1h-4zM636 256h4v1h-4zM1567 835h4v1h-4zM877 318h4v1h-4zM1244 412h4v1h-4zM1134 724h4v1h-4zM393 91h8v1h-8zM250 157h4v1h-4zM1053 363h4v1h-4zM219 489h4v1h-4zM1544 489h4v1h-4zM1605 489h9v1h-9zM492 219h3v1h-3zM495 220h4v1h-4zM804 42h8v1h-8zM512 619h8v1h-8zM725 619h4v1h-4zM710 275h4v1h-4zM4 434h4v1h-4zM1329 434h4v1h-4zM277 164h4v1h-4zM519 226h4v1h-4zM1002 690h4v1h-4zM1243 752h4v1h-4zM737 282h4v1h-4zM1162 391h4v1h-4zM762 47h8v1h-8zM1220 746h4v1h-4zM605 248h3v1h-3zM971 342h4v1h-4zM1461 808h4v1h-4zM636 62h8v1h-8zM1212 404h4v1h-4zM1029 697h4v1h-4zM375 529h3v1h-3zM1269 529h8v1h-8zM1700 529h3v1h-3zM1703 870h4v1h-4zM1271 759h3v1h-3zM764 289h4v1h-4zM594 67h8v1h-8zM1056 12h8v1h-8zM823 304h4v1h-4zM647 599h4v1h-4zM680 599h8v1h-8zM1064 366h4v1h-4zM106 460h4v1h-4zM1431 460h4v1h-4zM1849 460h3v1h-3zM1247 753h4v1h-4zM246 156h4v1h-4zM682 268h4v1h-4zM414 199h4v1h-4zM223 150h4v1h-4zM897 323h4v1h-4zM1080 710h4v1h-4zM464 212h4v1h-4zM1321 772h4v1h-4zM433 544h4v1h-4zM1143 544h8v1h-8zM1758 544h4v1h-4zM441 206h4v1h-4zM1189 738h4v1h-4zM1348 779h4v1h-4zM1407 794h4v1h-4zM1648 856h4v1h-4zM1216 745h4v1h-4zM1652 857h4v1h-4zM1458 807h3v1h-3zM1010 352h4v1h-4zM1434 801h4v1h-4zM433 204h4v1h-4zM796 297h3v1h-3zM601 247h4v1h-4zM651 260h4v1h-4zM460 211h4v1h-4zM386 192h4v1h-4zM628 254h4v1h-4zM1376 786h4v1h-4zM930 27h8v1h-8zM870 316h3v1h-3zM679 267h3v1h-3zM1103 716h4v1h-4zM1594 842h4v1h-4zM1403 793h4v1h-4zM1322 432h3v1h-3zM1621 849h4v1h-4zM983 345h3v1h-3zM355 184h4v1h-4zM1212 744h4v1h-4zM28 440h4v1h-4zM1353 440h4v1h-4zM573 240h4v1h-4zM382 191h4v1h-4zM1057 364h3v1h-3zM866 315h4v1h-4zM1290 764h4v1h-4zM1590 841h4v1h-4zM1084 371h4v1h-4zM1267 418h4v1h-4zM951 337h4v1h-4zM301 170h4v1h-4zM975 343h4v1h-4zM542 232h4v1h-4zM784 294h4v1h-4zM760 288h4v1h-4zM328 177h4v1h-4zM569 239h4v1h-4zM1060 705h4v1h-4zM1325 433h4v1h-4zM1477 812h4v1h-4zM1271 419h4v1h-4zM1695 868h4v1h-4zM1563 834h4v1h-4zM1368 784h4v1h-4zM488 218h4v1h-4zM924 330h4v1h-4zM729 280h4v1h-4zM1154 729h4v1h-4zM706 274h4v1h-4zM1637 853h4v1h-4zM947 336h4v1h-4zM515 225h4v1h-4zM1189 398h4v1h-4zM757 287h3v1h-3zM733 281h4v1h-4zM1664 860h4v1h-4zM675 266h4v1h-4zM1111 378h4v1h-4zM1341 777h4v1h-4zM893 322h4v1h-4zM1135 384h3v1h-3zM702 273h4v1h-4zM1138 385h4v1h-4zM1559 833h4v1h-4zM944 335h3v1h-3zM1126 722h4v1h-4zM920 329h4v1h-4zM1025 696h4v1h-4zM195 143h4v1h-4zM1052 703h4v1h-4zM1528 825h4v1h-4zM1080 370h4v1h-4zM1504 819h4v1h-4zM889 321h4v1h-4zM1313 770h4v1h-4zM1298 426h4v1h-4zM1107 377h4v1h-4zM1532 826h3v1h-3zM916 328h4v1h-4zM998 689h4v1h-4zM1691 867h4v1h-4zM1500 818h4v1h-4zM1294 425h4v1h-4zM862 314h4v1h-4zM453 209h3v1h-3zM1185 737h4v1h-4zM546 233h4v1h-4zM971 682h3v1h-3zM1022 355h3v1h-3zM1240 411h4v1h-4zM1072 708h4v1h-4zM1076 369h4v1h-4zM1158 730h3v1h-3zM612 250h4v1h-4zM1345 778h3v1h-3zM266 161h3v1h-3zM1123 721h3v1h-3zM484 217h4v1h-4zM671 265h4v1h-4zM425 202h4v1h-4zM831 306h3v1h-3zM3 93h1v1h-1zM3 433h1v1h-1z"/>
<g shape-rendering="crispEdges">
<path fill="#0000ff" d="M3 136h1v27h-1zM1 146h5v17h-5zM11 160h1v19h-1zM9 162h5v2h-5zM19 160h1v70h-1zM17 164h5v55h-5zM27 213h1v64h-1zM25 218h5v53h-5zM35 264h1v33h-1zM33 270h5v19h-5zM43 274h1v16h-1zM41 279h5v10h-5zM51 260h1v20h-1zM49 262h5v17h-5zM59 251h1v24h-1zM57 254h5v9h-5zM67 253h1v39h-1zM65 254h5v17h-5zM75 250h1v118h-1zM73 270h5v80h-5zM83 328h1v78h-1zM81 349h5v49h-5zM91 398h1v45h-1zM89 398h5v11h-5zM99 396h1v36h-1zM97 396h5v36h-5zM107 378h1v29h-1zM105 381h5v16h-5zM115 367h1v35h-1zM113 380h5v2h-5zM123 370h1v44h-1zM121 375h5v6h-5zM131 337h1v48h-1zM129 358h5v19h-5zM139 333h1v30h-1zM137 342h5v17h-5zM147 305h1v42h-1zM145 307h5v38h-5zM155 287h1v34h-1zM153 297h5v11h-5zM163 287h1v46h-1zM161 298h5v7h-5zM171 255h1v75h-1zM169 257h5v48h-5zM179 249h1v58h-1zM177 259h5v36h-5zM187 288h1v23h-1zM185 293h5v6h-5zM195 289h1v35h-1zM193 305h5v5h-5zM203 295h1v30h-1zM201 296h5v14h-5zM211 238h1v59h-1zM209 247h5v49h-5zM219 243h1v45h-1zM217 248h5v33h-5zM227 241h1v77h-1zM225 245h5v36h-5zM235 237h1v51h-1zM233 246h5v41h-5zM243 271h1v23h-1zM241 282h5v6h-5zM251 242h1v51h-1zM249 243h5v40h-5zM259 206h1v66h-1zM257 243h5v16h-5zM267 224h1v96h-1zM265 258h5v2h-5zM275 234h1v85h-1zM273 259h5v47h-5zM283 272h1v37h-1zM281 295h5v11h-5zM291 280h1v23h-1zM289 293h5v7h-5zM299 271h1v33h-1zM297 285h5v9h-5zM307 245h1v49h-1zM305 251h5v35h-5zM315 243h1v43h-1zM313 251h5v29h-5zM323 268h1v108h-1zM321 279h5v41h-5zM331 298h1v27h-1zM329 317h5v4h-5zM339 300h1v24h-1zM337 303h5v20h-5zM347 294h1v24h-1zM345 303h5v12h-5zM355 267h1v53h-1zM353 274h5v41h-5zM363 270h1v28h-1zM361 275h5v2h-5zM371 241h1v48h-1zM369 275h5v2h-5zM379 267h1v32h-1zM377 275h5v2h-5zM387 297h1v39h-1zM385 301h5v17h-5zM395 291h1v38h-1zM393 310h5v8h-5zM403 301h1v131h-1zM401 310h5v94h-5zM411 364h1v67h-1zM409 365h5v39h-5zM419 308h1v67h-1zM417 324h5v42h-5zM427 316h1v16h-1zM425 325h5v2h-5zM435 321h1v18h-1zM433 330h5v4h-5zM443 330h1v27h-1zM441 330h5v19h-5zM451 346h1v62h-1zM449 349h5v58h-5zM459 388h1v40h-1zM457 404h5v3h-5zM467 379h1v47h-1zM465 398h5v7h-5zM475 382h1v57h-1zM473 399h5v22h-5zM483 415h1v29h-1zM481 431h5v9h-5zM491 439h1v56h-1zM489 439h5v50h-5zM499 460h1v51h-1zM497 489h5v9h-5zM507 456h1v57h-1zM505 465h5v33h-5zM515 443h1v84h-1zM513 465h5v49h-5zM523 465h1v59h-1zM521 471h5v43h-5zM531 450h1v37h-1zM529 457h5v24h-5zM539 438h1v21h-1zM537 442h5v16h-5zM547 437h1v81h-1zM545 442h5v59h-5zM555 474h1v41h-1zM553 496h5v6h-5zM563 482h1v135h-1zM561 496h5v102h-5zM571 581h1v45h-1zM569 586h5v12h-5zM579 575h1v26h-1zM577 579h5v20h-5zM587 568h1v21h-1zM585 569h5v12h-5zM595 541h1v52h-1zM593 560h5v10h-5zM603 552h1v43h-1zM601 560h5v13h-5zM611 468h1v123h-1zM609 512h5v61h-5zM619 478h1v50h-1zM617 479h5v34h-5zM627 493h1v45h-1zM625 494h5v12h-5zM635 474h1v32h-1zM633 486h5v10h-5zM643 470h1v86h-1zM641 487h5v62h-5zM651 526h1v65h-1zM649 548h5v31h-5zM659 559h1v39h-1zM657 566h5v13h-5zM667 562h1v23h-1zM665 566h5v14h-5zM675 569h1v34h-1zM673 581h5v11h-5zM683 535h1v58h-1zM681 537h5v55h-5zM691 534h1v91h-1zM689 537h5v59h-5zM699 584h1v34h-1zM697 595h5v7h-5zM707 496h1v108h-1zM705 506h5v96h-5zM715 501h1v22h-1zM713 506h5v6h-5zM723 498h1v14h-1zM721 504h5v6h-5zM731 477h1v34h-1zM729 490h5v15h-5zM739 442h1v50h-1zM737 465h5v26h-5zM747 453h1v46h-1zM745 465h5v27h-5zM755 439h1v66h-1zM753 452h5v40h-5zM763 438h1v38h-1zM761 441h5v12h-5zM771 404h1v46h-1zM769 411h5v37h-5zM779 389h1v36h-1zM777 411h5v13h-5zM787 402h1v46h-1zM785 418h5v6h-5zM795 410h1v31h-1zM793 415h5v4h-5zM803 383h1v52h-1zM801 386h5v31h-5zM811 356h1v32h-1zM809 367h5v20h-5zM819 326h1v53h-1zM817 334h5v45h-5zM827 324h1v31h-1zM825 328h5v7h-5zM835 294h1v67h-1zM833 328h5v23h-5zM843 332h1v73h-1zM841 350h5v38h-5zM851 379h1v44h-1zM849 387h5v11h-5zM859 388h1v46h-1zM857 397h5v33h-5zM867 405h1v27h-1zM865 405h5v5h-5zM875 392h1v31h-1zM873 396h5v10h-5zM883 389h1v40h-1zM881 396h5v15h-5zM891 403h1v42h-1zM889 410h5v19h-5zM899 409h1v33h-1zM897 428h5v7h-5zM907 429h1v26h-1zM905 434h5v12h-5zM915 425h1v28h-1zM913 428h5v25h-5zM923 429h1v38h-1zM921 429h5v31h-5zM931 456h1v45h-1zM929 459h5v27h-5zM939 474h1v46h-1zM937 485h5v19h-5zM947 479h1v48h-1zM945 503h5v4h-5zM955 505h1v20h-1zM953 507h5v17h-5zM963 508h1v18h-1zM961 514h5v11h-5zM971 503h1v18h-1zM969 506h5v9h-5zM979 495h1v46h-1zM977 506h5v22h-5zM987 519h1v46h-1zM985 527h5v26h-5zM995 483h1v73h-1zM993 488h5v65h-5zM1003 486h1v29h-1zM1001 488h5v18h-5zM1011 497h1v30h-1zM1009 507h5v9h-5zM1019 513h1v27h-1zM1017 515h5v10h-5zM1027 511h1v30h-1zM1025 524h5v6h-5zM1035 512h1v38h-1zM1033 521h5v9h-5zM1043 487h1v39h-1zM1041 510h5v12h-5zM1051 487h1v29h-1zM1049 490h5v21h-5zM1059 485h1v14h-1zM1057 491h5v5h-5zM1067 489h1v24h-1zM1065 491h5v19h-5zM1075 473h1v49h-1zM1073 504h5v6h-5zM1083 437h1v77h-1zM1081 462h5v44h-5zM1091 446h1v45h-1zM1089 462h5v16h-5zM1099 459h1v27h-1zM1097 474h5v4h-5zM1107 438h1v40h-1zM1105 453h5v16h-5zM1115 452h1v35h-1zM1113 453h5v24h-5zM1123 452h1v40h-1zM1121 455h5v22h-5zM1131 431h1v37h-1zM1129 455h5v5h-5zM1139 447h1v20h-1zM1137 455h5v5h-5zM1147 430h1v31h-1zM1145 444h5v12h-5zM1155 410h1v35h-1zM1153 421h5v24h-5zM1163 402h1v26h-1zM1161 410h5v12h-5zM1171 404h1v40h-1zM1169 410h5v13h-5zM1179 408h1v70h-1zM1177 422h5v31h-5zM1187 401h1v57h-1zM1185 411h5v43h-5zM1195 407h1v28h-1zM1193 411h5v21h-5zM1203 415h1v26h-1zM1201 428h5v12h-5zM1211 438h1v37h-1zM1209 439h5v29h-5zM1219 439h1v51h-1zM1217 449h5v19h-5zM1227 436h1v39h-1zM1225 450h5v8h-5zM1235 407h1v60h-1zM1233 440h5v19h-5zM1243 432h1v131h-1zM1241 442h5v78h-5zM1251 495h1v34h-1zM1249 498h5v22h-5zM1259 456h1v55h-1zM1257 480h5v19h-5zM1267 470h1v41h-1zM1265 480h5v14h-5zM1275 487h1v130h-1zM1273 493h5v67h-5zM1283 547h1v48h-1zM1281 558h5v25h-5zM1291 571h1v20h-1zM1289 581h5v3h-5zM1299 562h1v22h-1zM1297 579h5v1h-5zM1307 568h1v17h-1zM1305 579h5v2h-5zM1315 563h1v40h-1zM1313 564h5v16h-5zM1323 564h1v83h-1zM1321 565h5v66h-5zM1331 622h1v40h-1zM1329 631h5v27h-5zM1339 630h1v32h-1zM1337 634h5v24h-5zM1347 632h1v30h-1zM1345 645h5v7h-5zM1355 633h1v21h-1zM1353 637h5v15h-5zM1363 626h1v57h-1zM1361 637h5v38h-5zM1371 660h1v30h-1zM1369 674h5v7h-5zM1379 632h1v60h-1zM1377 651h5v29h-5zM1387 644h1v28h-1zM1385 651h5v14h-5zM1395 663h1v40h-1zM1393 669h5v14h-5zM1403 668h1v23h-1zM1401 677h5v6h-5zM1411 640h1v60h-1zM1409 677h5v21h-5zM1419 682h1v59h-1zM1417 698h5v16h-5zM1427 705h1v43h-1zM1425 713h5v15h-5zM1435 722h1v22h-1zM1433 728h5v6h-5zM1443 703h1v33h-1zM1441 718h5v15h-5zM1451 709h1v17h-1zM1449 714h5v5h-5zM1459 707h1v26h-1zM1457 714h5v14h-5zM1467 711h1v37h-1zM1465 727h5v20h-5zM1475 712h1v43h-1zM1473 734h5v13h-5zM1483 710h1v28h-1zM1481 712h5v23h-5zM1491 684h1v33h-1zM1489 686h5v30h-5zM1499 680h1v16h-1zM1497 681h5v6h-5zM1507 675h1v12h-1zM1505 681h5v1h-5z"/>
<path fill="#ff0000" d="M2 147h3v15h-3zM18 165h3v53h-3zM26 219h3v51h-3zM34 271h3v17h-3zM66 255h3v15h-3zM74 271h3v78h-3zM82 350h3v47h-3zM90 399h3v9h-3zM162 299h3v5h-3zM178 260h3v34h-3zM186 294h3v4h-3zM194 306h3v3h-3zM218 249h3v31h-3zM234 247h3v39h-3zM258 244h3v14h-3zM274 260h3v45h-3zM314 252h3v27h-3zM322 280h3v39h-3zM346 304h3v10h-3zM386 302h3v15h-3zM402 311h3v92h-3zM442 331h3v17h-3zM450 350h3v56h-3zM474 400h3v20h-3zM482 432h3v7h-3zM490 440h3v48h-3zM498 490h3v7h-3zM514 466h3v47h-3zM546 443h3v57h-3zM562 497h3v100h-3zM602 561h3v11h-3zM642 488h3v60h-3zM650 549h3v29h-3zM666 567h3v12h-3zM674 582h3v9h-3zM690 538h3v57h-3zM698 596h3v5h-3zM714 507h3v4h-3zM746 466h3v25h-3zM778 412h3v11h-3zM834 329h3v21h-3zM842 351h3v36h-3zM850 388h3v9h-3zM858 398h3v31h-3zM882 397h3v13h-3zM890 411h3v17h-3zM898 429h3v5h-3zM906 435h3v10h-3zM922 430h3v29h-3zM930 460h3v25h-3zM938 486h3v17h-3zM946 504h3v2h-3zM954 508h3v15h-3zM978 507h3v20h-3zM986 528h3v24h-3zM1002 489h3v16h-3zM1010 508h3v7h-3zM1018 516h3v8h-3zM1026 525h3v4h-3zM1066 492h3v17h-3zM1090 463h3v14h-3zM1114 454h3v22h-3zM1130 456h3v3h-3zM1170 411h3v11h-3zM1178 423h3v29h-3zM1194 412h3v19h-3zM1202 429h3v10h-3zM1210 440h3v27h-3zM1226 451h3v6h-3zM1242 443h3v76h-3zM1266 481h3v12h-3zM1274 494h3v65h-3zM1282 559h3v23h-3zM1322 566h3v64h-3zM1330 632h3v25h-3zM1346 646h3v5h-3zM1362 638h3v36h-3zM1370 675h3v5h-3zM1386 652h3v12h-3zM1394 670h3v12h-3zM1410 678h3v19h-3zM1418 699h3v14h-3zM1426 714h3v13h-3zM1434 729h3v4h-3zM1458 715h3v12h-3zM1466 728h3v18h-3z"/>
<path fill="#32cd32" d="M42 280h3v8h-3zM50 263h3v15h-3zM58 255h3v7h-3zM98 397h3v34h-3zM106 382h3v14h-3zM122 376h3v4h-3zM130 359h3v17h-3zM138 343h3v15h-3zM146 308h3v36h-3zM154 298h3v9h-3zM170 258h3v46h-3zM202 297h3v12h-3zM210 248h3v47h-3zM226 246h3v34h-3zM242 283h3v4h-3zM250 244h3v38h-3zM282 296h3v9h-3zM290 294h3v5h-3zM298 286h3v7h-3zM306 252h3v33h-3zM330 318h3v2h-3zM338 304h3v18h-3zM354 275h3v39h-3zM394 311h3v6h-3zM410 366h3v37h-3zM418 325h3v40h-3zM434 331h3v2h-3zM458 405h3v1h-3zM466 399h3v5h-3zM506 466h3v31h-3zM522 472h3v41h-3zM530 458h3v22h-3zM538 443h3v14h-3zM554 497h3v4h-3zM570 587h3v10h-3zM578 580h3v18h-3zM586 570h3v10h-3zM594 561h3v8h-3zM610 513h3v59h-3zM618 480h3v32h-3zM626 495h3v10h-3zM634 487h3v8h-3zM658 567h3v11h-3zM682 538h3v53h-3zM706 507h3v94h-3zM722 505h3v4h-3zM730 491h3v13h-3zM738 466h3v24h-3zM754 453h3v38h-3zM762 442h3v10h-3zM770 412h3v35h-3zM786 419h3v4h-3zM794 416h3v2h-3zM802 387h3v29h-3zM810 368h3v18h-3zM818 335h3v43h-3zM826 329h3v5h-3zM866 406h3v3h-3zM874 397h3v8h-3zM914 429h3v23h-3zM962 515h3v9h-3zM970 507h3v7h-3zM994 489h3v63h-3zM1034 522h3v7h-3zM1042 511h3v10h-3zM1050 491h3v19h-3zM1058 492h3v3h-3zM1074 505h3v4h-3zM1082 463h3v42h-3zM1098 475h3v2h-3zM1106 454h3v14h-3zM1122 456h3v20h-3zM1138 456h3v3h-3zM1146 445h3v10h-3zM1154 422h3v22h-3zM1162 411h3v10h-3zM1186 412h3v41h-3zM1218 450h3v17h-3zM1234 441h3v17h-3zM1250 499h3v20h-3zM1258 481h3v17h-3zM1290 582h3v1h-3zM1314 565h3v14h-3zM1338 635h3v22h-3zM1354 638h3v13h-3zM1378 652h3v27h-3zM1402 678h3v4h-3zM1442 719h3v13h-3zM1450 715h3v3h-3zM1474 735h3v11h-3zM1482 713h3v21h-3zM1490 687h3v28h-3zM1498 682h3v4h-3z"/>
</g>
<g stroke="#000" stroke-width="1.6" fill="none" stroke-linejoin="miter">
<path d="M91.2 443 L98.8 451.3 H95.10000000000001 V464.5 H87.3 V451.3 H83.60000000000001 Z"/>
<path d="M699.2 625 L706.8000000000001 633.3 H703.1 V646.5 H695.3000000000001 V633.3 H691.6 Z"/>
<path d="M1475.2 757.5 L1482.8 765.8 H1479.1000000000001 V779.0 H1471.3 V765.8 H1467.6000000000001 Z"/>
<path d="M835.2 295.5 L842.8000000000001 287.2 H839.1 V274.0 H831.3000000000001 V287.2 H827.6 Z"/>
</g>
<text class="lbl" x="33.2" y="488">Hammer</text>
<text class="lbl" x="641.2" y="675">Hammer</text>
<text class="lbl" x="749.3" y="261.5">Shooting star</text>
<text class="lbl" x="1364.8" y="809" style="font-size:32.28px">Inverted hammer</text>
<g stroke="#ff0000" stroke-width="1.6" fill="none" stroke-linecap="butt" stroke-linejoin="round">
<polyline points="1547.5,643.5 1563.3,625 1610.8,784.5"/>
<polyline points="1587.5,745.5 1610.8,784.5 1610.8,738"/>
</g>
<rect x="1638.5" y="590.5" width="119" height="40" fill="#fff" stroke="#000" stroke-width="1" shape-rendering="crispEdges"/>
<rect x="1628" y="610" width="10" height="1" fill="#000" shape-rendering="crispEdges"/>
<text class="box" x="1640" y="623" textLength="117" lengthAdjust="spacingAndGlyphs">1.15500</text>
<rect x="1638.5" y="749.5" width="119" height="40" fill="#fff" stroke="#000" stroke-width="1" shape-rendering="crispEdges"/>
<rect x="1628" y="769" width="10" height="1" fill="#000" shape-rendering="crispEdges"/>
<text class="box" x="1640" y="782" textLength="117" lengthAdjust="spacingAndGlyphs">1.14600</text>
</g>
<path d="M6 10h9l-4.5 5z" fill="#000"/>
<text class="ax" y="17"><tspan x="21" textLength="63.5" lengthAdjust="spacingAndGlyphs">EURUSD,H4</tspan> <tspan x="93" textLength="45.5" lengthAdjust="spacingAndGlyphs">1.15096</tspan> <tspan x="143.2" textLength="45.5" lengthAdjust="spacingAndGlyphs">1.15131</tspan> <tspan x="193.3" textLength="45.5" lengthAdjust="spacingAndGlyphs">1.15069</tspan> <tspan x="243.4" textLength="45.5" lengthAdjust="spacingAndGlyphs">1.15098</tspan></text>
<g fill="#000" shape-rendering="crispEdges">
<rect x="2" y="2" width="1851" height="1"/>
<rect x="2" y="2" width="1" height="871"/>
<rect x="1852" y="2" width="1" height="871"/>
<rect x="2" y="872" width="1851" height="1"/>
<rect x="1853" y="20" width="2" height="1"/>
<rect x="1853" y="69" width="2" height="1"/>
<rect x="1853" y="118" width="2" height="1"/>
<rect x="1853" y="167" width="2" height="1"/>
<rect x="1853" y="216" width="2" height="1"/>
<rect x="1853" y="265" width="2" height="1"/>
<rect x="1853" y="314" width="2" height="1"/>
<rect x="1853" y="363" width="2" height="1"/>
<rect x="1853" y="412" width="2" height="1"/>
<rect x="1853" y="461" width="2" height="1"/>
<rect x="1853" y="510" width="2" height="1"/>
<rect x="1853" y="559" width="2" height="1"/>
<rect x="1853" y="608" width="2" height="1"/>
<rect x="1853" y="657" width="2" height="1"/>
<rect x="1853" y="706" width="2" height="1"/>
<rect x="1853" y="755" width="2" height="1"/>
<rect x="1853" y="804" width="2" height="1"/>
<rect x="1853" y="853" width="2" height="1"/>
<rect x="3" y="873" width="1" height="3"/>
<rect x="99" y="873" width="1" height="3"/>
<rect x="195" y="873" width="1" height="3"/>
<rect x="291" y="873" width="1" height="3"/>
<rect x="387" y="873" width="1" height="3"/>
<rect x="483" y="873" width="1" height="3"/>
<rect x="579" y="873" width="1" height="3"/>
<rect x="675" y="873" width="1" height="3"/>
<rect x="771" y="873" width="1" height="3"/>
<rect x="867" y="873" width="1" height="3"/>
<rect x="963" y="873" width="1" height="3"/>
<rect x="1059" y="873" width="1" height="3"/>
<rect x="1155" y="873" width="1" height="3"/>
<rect x="1251" y="873" width="1" height="3"/>
<rect x="1347" y="873" width="1" height="3"/>
<rect x="1443" y="873" width="1" height="3"/>
<rect x="1854" y="674" width="56" height="14"/>
</g>
<text class="ax" x="1859.3" y="25.0" textLength="46" lengthAdjust="spacingAndGlyphs">1.18835</text>
<text class="ax" x="1859.3" y="74.0" textLength="46" lengthAdjust="spacingAndGlyphs">1.18560</text>
<text class="ax" x="1859.3" y="123.0" textLength="46" lengthAdjust="spacingAndGlyphs">1.18280</text>
<text class="ax" x="1859.3" y="172.0" textLength="46" lengthAdjust="spacingAndGlyphs">1.18005</text>
<text class="ax" x="1859.3" y="221.0" textLength="46" lengthAdjust="spacingAndGlyphs">1.17730</text>
<text class="ax" x="1859.3" y="270.0" textLength="46" lengthAdjust="spacingAndGlyphs">1.17450</text>
<text class="ax" x="1859.3" y="319.0" textLength="46" lengthAdjust="spacingAndGlyphs">1.17175</text>
<text class="ax" x="1859.3" y="368.0" textLength="46" lengthAdjust="spacingAndGlyphs">1.16895</text>
<text class="ax" x="1859.3" y="417.0" textLength="46" lengthAdjust="spacingAndGlyphs">1.16620</text>
<text class="ax" x="1859.3" y="466.0" textLength="46" lengthAdjust="spacingAndGlyphs">1.16340</text>
<text class="ax" x="1859.3" y="515.0" textLength="46" lengthAdjust="spacingAndGlyphs">1.16065</text>
<text class="ax" x="1859.3" y="564.0" textLength="46" lengthAdjust="spacingAndGlyphs">1.15785</text>
<text class="ax" x="1859.3" y="613.0" textLength="46" lengthAdjust="spacingAndGlyphs">1.15510</text>
<text class="ax" x="1859.3" y="662.0" textLength="46" lengthAdjust="spacingAndGlyphs">1.15235</text>
<text class="ax" x="1859.3" y="711.0" textLength="46" lengthAdjust="spacingAndGlyphs">1.14955</text>
<text class="ax" x="1859.3" y="760.0" textLength="46" lengthAdjust="spacingAndGlyphs">1.14680</text>
<text class="ax" x="1859.3" y="809.0" textLength="46" lengthAdjust="spacingAndGlyphs">1.14400</text>
<text class="ax" x="1859.3" y="858.0" textLength="46" lengthAdjust="spacingAndGlyphs">1.14125</text>
<text class="ax" x="1859.3" y="685.5" style="fill:#fff;stroke:#fff" textLength="46" lengthAdjust="spacingAndGlyphs">1.15098</text>
<text class="ax" x="2.2" y="888">24 Sep 2025</text>
<text class="ax" x="98.5" y="888">26 Sep 00:00</text>
<text class="ax" x="194.5" y="888">30 Sep 00:00</text>
<text class="ax" x="290.5" y="888">2 Oct 00:00</text>
<text class="ax" x="386.5" y="888">6 Oct 00:00</text>
<text class="ax" x="482.5" y="888">8 Oct 00:00</text>
<text class="ax" x="578.5" y="888">10 Oct 00:00</text>
<text class="ax" x="674.5" y="888">14 Oct 00:00</text>
<text class="ax" x="770.5" y="888">16 Oct 00:00</text>
<text class="ax" x="866.5" y="888">20 Oct 00:00</text>
<text class="ax" x="962.5" y="888">22 Oct 00:00</text>
<text class="ax" x="1058.5" y="888">24 Oct 00:00</text>
<text class="ax" x="1154.5" y="888">28 Oct 00:00</text>
<text class="ax" x="1250.5" y="888">30 Oct 00:00</text>
<text class="ax" x="1346.5" y="888">3 Nov 00:00</text>
<text class="ax" x="1442.5" y="888">5 Nov 00:00</text>
</svg></body></html>
